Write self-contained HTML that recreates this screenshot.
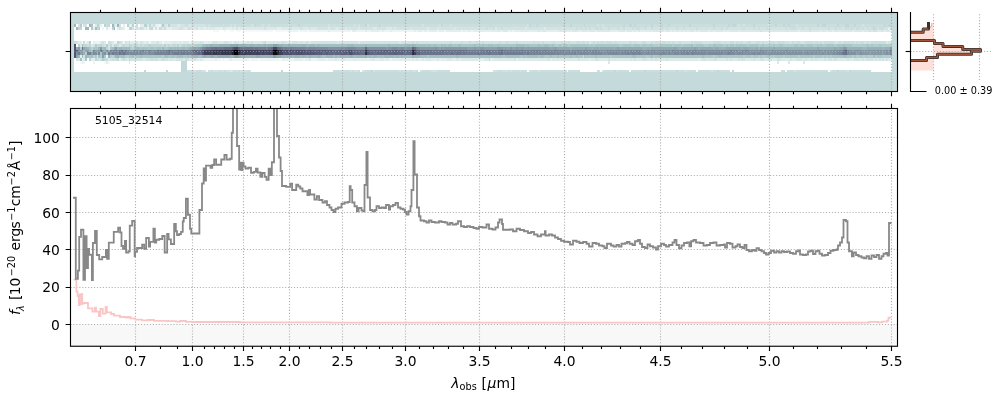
<!DOCTYPE html>
<html><head><meta charset="utf-8"><title>5105_32514</title>
<style>html,body{margin:0;padding:0;background:#fff}svg{display:block;will-change:transform}</style>
</head><body>
<svg width="1000" height="400" viewBox="0 0 1000 400">
<g shape-rendering="crispEdges">
<rect x="70.50" y="12.50" width="827.00" height="79.00" fill="#c5dada"/>
<path fill="#9cb8bc" d="M74.0 24.0h1.9v3.00h-1.9zM89.0 24.0h1.9v3.00h-1.9zM111.6 24.0h1.9v3.00h-1.9zM117.2 24.0h1.9v3.00h-1.9zM75.9 27.0h1.9v3.00h-1.9zM85.3 27.0h3.8v3.00h-3.8zM113.5 27.0h1.9v3.00h-1.9zM205.6 44.0h1.9v3.00h-1.9zM213.1 44.0h5.6v3.00h-5.6zM247.0 44.0h1.9v3.00h-1.9zM254.5 44.0h3.8v3.00h-3.8zM260.1 44.0h3.8v3.00h-3.8zM265.8 44.0h1.9v3.00h-1.9zM282.7 44.0h5.6v3.00h-5.6zM290.2 44.0h13.2v3.00h-13.2zM305.2 44.0h1.9v3.00h-1.9zM309.0 44.0h5.6v3.00h-5.6zM316.5 44.0h3.8v3.00h-3.8zM346.6 44.0h1.9v3.00h-1.9zM350.4 44.0h3.8v3.00h-3.8zM365.4 44.0h1.9v3.00h-1.9zM388.0 44.0h1.9v3.00h-1.9zM406.8 44.0h3.8v3.00h-3.8zM414.3 44.0h1.9v3.00h-1.9zM87.2 47.0h1.9v3.00h-1.9zM98.4 47.0h1.9v3.00h-1.9zM104.1 47.0h1.9v3.00h-1.9zM119.1 47.0h3.8v3.00h-3.8zM124.8 47.0h1.9v3.00h-1.9zM128.5 47.0h1.9v3.00h-1.9zM162.4 47.0h1.9v3.00h-1.9zM169.9 47.0h1.9v3.00h-1.9zM173.6 47.0h1.9v3.00h-1.9zM177.4 47.0h1.9v3.00h-1.9zM181.2 47.0h3.8v3.00h-3.8zM186.8 47.0h1.9v3.00h-1.9zM758.3 47.0h1.9v3.00h-1.9zM861.7 47.0h5.6v3.00h-5.6zM882.4 47.0h1.9v3.00h-1.9zM83.4 50.0h1.9v2.00h-1.9zM89.0 50.0h1.9v2.00h-1.9zM106.0 52.0h1.9v3.00h-1.9zM77.8 55.0h1.9v3.00h-1.9zM85.3 55.0h1.9v3.00h-1.9zM115.4 55.0h1.9v3.00h-1.9zM192.4 55.0h5.6v3.00h-5.6zM215.0 55.0h1.9v3.00h-1.9zM284.6 55.0h1.9v3.00h-1.9zM288.3 55.0h1.9v3.00h-1.9zM292.1 55.0h1.9v3.00h-1.9zM299.6 55.0h1.9v3.00h-1.9zM305.2 55.0h3.8v3.00h-3.8zM310.9 55.0h7.5v3.00h-7.5zM320.3 55.0h1.9v3.00h-1.9zM325.9 55.0h7.5v3.00h-7.5zM335.3 55.0h1.9v3.00h-1.9zM339.1 55.0h11.3v3.00h-11.3zM352.2 55.0h1.9v3.00h-1.9zM356.0 55.0h9.4v3.00h-9.4zM369.2 55.0h1.9v3.00h-1.9zM372.9 55.0h3.8v3.00h-3.8zM380.4 55.0h1.9v3.00h-1.9zM384.2 55.0h9.4v3.00h-9.4zM395.5 55.0h3.8v3.00h-3.8zM401.1 55.0h1.9v3.00h-1.9zM414.3 55.0h5.6v3.00h-5.6zM455.6 55.0h1.9v3.00h-1.9z"/>
<path fill="#ffffff" d="M75.9 24.0h1.9v3.00h-1.9zM81.5 24.0h1.9v3.00h-1.9zM87.2 24.0h1.9v3.00h-1.9zM102.2 24.0h1.9v3.00h-1.9zM109.7 24.0h1.9v3.00h-1.9zM121.0 24.0h1.9v3.00h-1.9zM124.8 24.0h1.9v3.00h-1.9zM134.2 24.0h1.9v3.00h-1.9zM137.9 24.0h1.9v3.00h-1.9zM74.0 27.0h1.9v3.00h-1.9zM81.5 27.0h3.8v3.00h-3.8zM89.0 27.0h1.9v3.00h-1.9zM100.3 27.0h1.9v3.00h-1.9zM104.1 27.0h1.9v3.00h-1.9zM115.4 27.0h1.9v3.00h-1.9zM124.8 27.0h1.9v3.00h-1.9zM74.0 30.0h13.2v2.00h-13.2zM89.0 30.0h5.6v2.00h-5.6zM96.6 30.0h116.6v2.00h-116.6zM218.8 30.0h5.6v2.00h-5.6zM226.3 30.0h3.8v2.00h-3.8zM233.8 30.0h1.9v2.00h-1.9zM241.3 30.0h1.9v2.00h-1.9zM273.3 30.0h1.9v2.00h-1.9zM74.0 32.0h817.8v3.00h-817.8zM74.0 35.0h817.8v3.00h-817.8zM74.0 38.0h817.8v3.00h-817.8zM90.9 41.0h1.9v3.00h-1.9zM106.0 41.0h1.9v3.00h-1.9zM75.9 44.0h1.9v3.00h-1.9zM74.0 58.0h1.9v3.00h-1.9zM87.2 58.0h1.9v3.00h-1.9zM74.0 61.0h5.6v3.00h-5.6zM85.3 61.0h7.5v3.00h-7.5zM94.7 61.0h9.4v3.00h-9.4zM109.7 61.0h18.8v3.00h-18.8zM130.4 61.0h50.8v3.00h-50.8zM186.8 61.0h421.1v3.00h-421.1zM609.8 61.0h167.3v3.00h-167.3zM779.0 61.0h9.4v3.00h-9.4zM790.3 61.0h13.2v3.00h-13.2zM805.3 61.0h86.5v3.00h-86.5zM74.0 64.0h107.2v3.00h-107.2zM186.8 64.0h705.0v3.00h-705.0zM74.0 67.0h107.2v3.00h-107.2zM186.8 67.0h705.0v3.00h-705.0zM74.0 70.0h69.6v2.00h-69.6zM145.4 70.0h20.7v2.00h-20.7zM168.0 70.0h13.2v2.00h-13.2zM205.6 70.0h1.9v2.00h-1.9zM250.7 70.0h30.1v2.00h-30.1zM282.7 70.0h50.8v2.00h-50.8zM359.8 70.0h1.9v2.00h-1.9zM418.0 70.0h1.9v2.00h-1.9zM450.0 70.0h43.2v2.00h-43.2zM527.1 70.0h1.9v2.00h-1.9zM566.6 70.0h1.9v2.00h-1.9zM579.7 70.0h16.9v2.00h-16.9zM600.4 70.0h1.9v2.00h-1.9zM628.6 70.0h1.9v2.00h-1.9zM696.3 70.0h1.9v2.00h-1.9zM730.1 70.0h1.9v2.00h-1.9zM733.9 70.0h47.0v2.00h-47.0zM784.6 70.0h1.9v2.00h-1.9zM827.9 70.0h1.9v2.00h-1.9zM871.1 70.0h20.7v2.00h-20.7z"/>
<path fill="#d3e3e3" d="M77.8 24.0h1.9v3.00h-1.9zM83.4 24.0h3.8v3.00h-3.8zM113.5 24.0h1.9v3.00h-1.9zM119.1 24.0h1.9v3.00h-1.9zM160.5 24.0h1.9v3.00h-1.9zM164.2 24.0h1.9v3.00h-1.9zM169.9 24.0h7.5v3.00h-7.5zM181.2 24.0h3.8v3.00h-3.8zM186.8 24.0h1.9v3.00h-1.9zM190.6 24.0h1.9v3.00h-1.9zM194.3 24.0h11.3v3.00h-11.3zM207.5 24.0h3.8v3.00h-3.8zM222.5 24.0h1.9v3.00h-1.9zM230.0 24.0h1.9v3.00h-1.9zM233.8 24.0h1.9v3.00h-1.9zM250.7 24.0h1.9v3.00h-1.9zM262.0 24.0h1.9v3.00h-1.9zM267.6 24.0h1.9v3.00h-1.9zM288.3 24.0h1.9v3.00h-1.9zM327.8 24.0h1.9v3.00h-1.9zM333.4 24.0h1.9v3.00h-1.9zM354.1 24.0h1.9v3.00h-1.9zM357.9 24.0h1.9v3.00h-1.9zM367.3 24.0h1.9v3.00h-1.9zM380.4 24.0h1.9v3.00h-1.9zM421.8 24.0h1.9v3.00h-1.9zM438.7 24.0h1.9v3.00h-1.9zM442.5 24.0h1.9v3.00h-1.9zM450.0 24.0h1.9v3.00h-1.9zM527.1 24.0h1.9v3.00h-1.9zM596.6 24.0h1.9v3.00h-1.9zM602.3 24.0h1.9v3.00h-1.9zM737.6 24.0h1.9v3.00h-1.9zM743.3 24.0h1.9v3.00h-1.9zM767.7 24.0h1.9v3.00h-1.9zM795.9 24.0h1.9v3.00h-1.9zM861.7 24.0h1.9v3.00h-1.9zM119.1 27.0h1.9v3.00h-1.9zM132.3 27.0h1.9v3.00h-1.9zM136.0 27.0h1.9v3.00h-1.9zM141.7 27.0h1.9v3.00h-1.9zM145.4 27.0h1.9v3.00h-1.9zM154.8 27.0h1.9v3.00h-1.9zM179.3 27.0h3.8v3.00h-3.8zM186.8 27.0h3.8v3.00h-3.8zM196.2 27.0h1.9v3.00h-1.9zM222.5 27.0h1.9v3.00h-1.9zM235.7 27.0h1.9v3.00h-1.9zM263.9 27.0h1.9v3.00h-1.9zM290.2 27.0h1.9v3.00h-1.9zM299.6 27.0h3.8v3.00h-3.8zM309.0 27.0h1.9v3.00h-1.9zM316.5 27.0h11.3v3.00h-11.3zM329.7 27.0h5.6v3.00h-5.6zM339.1 27.0h5.6v3.00h-5.6zM346.6 27.0h1.9v3.00h-1.9zM350.4 27.0h7.5v3.00h-7.5zM359.8 27.0h13.2v3.00h-13.2zM376.7 27.0h9.4v3.00h-9.4zM391.7 27.0h1.9v3.00h-1.9zM395.5 27.0h15.0v3.00h-15.0zM412.4 27.0h15.0v3.00h-15.0zM429.3 27.0h7.5v3.00h-7.5zM438.7 27.0h15.0v3.00h-15.0zM455.6 27.0h30.1v3.00h-30.1zM487.6 27.0h5.6v3.00h-5.6zM497.0 27.0h3.8v3.00h-3.8zM502.6 27.0h22.6v3.00h-22.6zM527.1 27.0h16.9v3.00h-16.9zM545.9 27.0h30.1v3.00h-30.1zM577.8 27.0h1.9v3.00h-1.9zM581.6 27.0h3.8v3.00h-3.8zM587.2 27.0h1.9v3.00h-1.9zM591.0 27.0h3.8v3.00h-3.8zM598.5 27.0h1.9v3.00h-1.9zM602.3 27.0h5.6v3.00h-5.6zM609.8 27.0h7.5v3.00h-7.5zM619.2 27.0h3.8v3.00h-3.8zM624.8 27.0h7.5v3.00h-7.5zM634.2 27.0h1.9v3.00h-1.9zM639.9 27.0h3.8v3.00h-3.8zM645.5 27.0h5.6v3.00h-5.6zM653.0 27.0h7.5v3.00h-7.5zM662.4 27.0h3.8v3.00h-3.8zM668.1 27.0h7.5v3.00h-7.5zM677.5 27.0h5.6v3.00h-5.6zM685.0 27.0h11.3v3.00h-11.3zM698.2 27.0h15.0v3.00h-15.0zM715.1 27.0h5.6v3.00h-5.6zM722.6 27.0h3.8v3.00h-3.8zM728.2 27.0h15.0v3.00h-15.0zM745.2 27.0h7.5v3.00h-7.5zM754.6 27.0h3.8v3.00h-3.8zM760.2 27.0h5.6v3.00h-5.6zM767.7 27.0h16.9v3.00h-16.9zM786.5 27.0h3.8v3.00h-3.8zM795.9 27.0h5.6v3.00h-5.6zM803.4 27.0h5.6v3.00h-5.6zM811.0 27.0h16.9v3.00h-16.9zM829.8 27.0h3.8v3.00h-3.8zM837.3 27.0h1.9v3.00h-1.9zM841.0 27.0h3.8v3.00h-3.8zM848.6 27.0h1.9v3.00h-1.9zM854.2 27.0h1.9v3.00h-1.9zM859.8 27.0h1.9v3.00h-1.9zM863.6 27.0h3.8v3.00h-3.8zM869.2 27.0h1.9v3.00h-1.9zM876.8 27.0h1.9v3.00h-1.9zM884.3 27.0h3.8v3.00h-3.8zM760.2 30.0h1.9v2.00h-1.9zM786.5 30.0h1.9v2.00h-1.9zM809.1 30.0h1.9v2.00h-1.9zM869.2 30.0h1.9v2.00h-1.9zM873.0 30.0h3.8v2.00h-3.8zM880.5 30.0h1.9v2.00h-1.9zM75.9 41.0h1.9v3.00h-1.9zM102.2 41.0h1.9v3.00h-1.9zM109.7 41.0h1.9v3.00h-1.9zM124.8 41.0h1.9v3.00h-1.9zM136.0 41.0h1.9v3.00h-1.9zM139.8 41.0h1.9v3.00h-1.9zM156.7 41.0h1.9v3.00h-1.9zM192.4 41.0h1.9v3.00h-1.9zM200.0 41.0h1.9v3.00h-1.9zM213.1 41.0h3.8v3.00h-3.8zM224.4 41.0h3.8v3.00h-3.8zM233.8 41.0h1.9v3.00h-1.9zM237.6 41.0h1.9v3.00h-1.9zM247.0 41.0h1.9v3.00h-1.9zM250.7 41.0h1.9v3.00h-1.9zM262.0 41.0h1.9v3.00h-1.9zM269.5 41.0h1.9v3.00h-1.9zM273.3 41.0h1.9v3.00h-1.9zM277.0 41.0h1.9v3.00h-1.9zM280.8 41.0h5.6v3.00h-5.6zM292.1 41.0h5.6v3.00h-5.6zM299.6 41.0h3.8v3.00h-3.8zM305.2 41.0h3.8v3.00h-3.8zM310.9 41.0h26.3v3.00h-26.3zM339.1 41.0h18.8v3.00h-18.8zM359.8 41.0h39.5v3.00h-39.5zM401.1 41.0h11.3v3.00h-11.3zM414.3 41.0h1.9v3.00h-1.9zM418.0 41.0h32.0v3.00h-32.0zM451.9 41.0h9.4v3.00h-9.4zM463.2 41.0h5.6v3.00h-5.6zM470.7 41.0h5.6v3.00h-5.6zM478.2 41.0h3.8v3.00h-3.8zM483.8 41.0h15.0v3.00h-15.0zM500.8 41.0h5.6v3.00h-5.6zM508.3 41.0h7.5v3.00h-7.5zM517.7 41.0h15.0v3.00h-15.0zM534.6 41.0h1.9v3.00h-1.9zM538.4 41.0h3.8v3.00h-3.8zM544.0 41.0h9.4v3.00h-9.4zM555.3 41.0h5.6v3.00h-5.6zM562.8 41.0h1.9v3.00h-1.9zM566.6 41.0h1.9v3.00h-1.9zM570.3 41.0h5.6v3.00h-5.6zM579.7 41.0h1.9v3.00h-1.9zM585.4 41.0h1.9v3.00h-1.9zM591.0 41.0h1.9v3.00h-1.9zM594.8 41.0h1.9v3.00h-1.9zM598.5 41.0h1.9v3.00h-1.9zM604.2 41.0h1.9v3.00h-1.9zM611.7 41.0h1.9v3.00h-1.9zM617.3 41.0h11.3v3.00h-11.3zM632.4 41.0h1.9v3.00h-1.9zM636.1 41.0h5.6v3.00h-5.6zM645.5 41.0h5.6v3.00h-5.6zM653.0 41.0h1.9v3.00h-1.9zM658.7 41.0h3.8v3.00h-3.8zM666.2 41.0h1.9v3.00h-1.9zM670.0 41.0h1.9v3.00h-1.9zM673.7 41.0h5.6v3.00h-5.6zM681.2 41.0h9.4v3.00h-9.4zM692.5 41.0h1.9v3.00h-1.9zM701.9 41.0h11.3v3.00h-11.3zM720.7 41.0h3.8v3.00h-3.8zM726.4 41.0h3.8v3.00h-3.8zM733.9 41.0h1.9v3.00h-1.9zM737.6 41.0h1.9v3.00h-1.9zM743.3 41.0h3.8v3.00h-3.8zM750.8 41.0h5.6v3.00h-5.6zM760.2 41.0h1.9v3.00h-1.9zM764.0 41.0h5.6v3.00h-5.6zM775.2 41.0h1.9v3.00h-1.9zM784.6 41.0h1.9v3.00h-1.9zM788.4 41.0h3.8v3.00h-3.8zM794.0 41.0h1.9v3.00h-1.9zM799.7 41.0h5.6v3.00h-5.6zM812.8 41.0h1.9v3.00h-1.9zM818.5 41.0h1.9v3.00h-1.9zM822.2 41.0h1.9v3.00h-1.9zM833.5 41.0h5.6v3.00h-5.6zM841.0 41.0h1.9v3.00h-1.9zM854.2 41.0h1.9v3.00h-1.9zM858.0 41.0h1.9v3.00h-1.9zM863.6 41.0h3.8v3.00h-3.8zM869.2 41.0h1.9v3.00h-1.9zM888.0 41.0h3.8v3.00h-3.8zM92.8 44.0h1.9v3.00h-1.9zM104.1 44.0h1.9v3.00h-1.9zM107.8 44.0h1.9v3.00h-1.9zM107.8 47.0h1.9v3.00h-1.9zM83.4 55.0h1.9v3.00h-1.9zM75.9 58.0h1.9v3.00h-1.9zM109.7 58.0h1.9v3.00h-1.9zM113.5 58.0h1.9v3.00h-1.9zM121.0 58.0h1.9v3.00h-1.9zM124.8 58.0h1.9v3.00h-1.9zM130.4 58.0h11.3v3.00h-11.3zM145.4 58.0h5.6v3.00h-5.6zM153.0 58.0h1.9v3.00h-1.9zM156.7 58.0h1.9v3.00h-1.9zM160.5 58.0h1.9v3.00h-1.9zM164.2 58.0h3.8v3.00h-3.8zM169.9 58.0h1.9v3.00h-1.9zM175.5 58.0h7.5v3.00h-7.5zM186.8 58.0h1.9v3.00h-1.9zM194.3 58.0h1.9v3.00h-1.9zM513.9 58.0h1.9v3.00h-1.9zM547.8 58.0h1.9v3.00h-1.9zM577.8 58.0h1.9v3.00h-1.9zM594.8 58.0h3.8v3.00h-3.8zM607.9 58.0h1.9v3.00h-1.9zM630.5 58.0h1.9v3.00h-1.9zM634.2 58.0h1.9v3.00h-1.9zM641.8 58.0h5.6v3.00h-5.6zM651.2 58.0h1.9v3.00h-1.9zM654.9 58.0h1.9v3.00h-1.9zM660.6 58.0h1.9v3.00h-1.9zM666.2 58.0h1.9v3.00h-1.9zM701.9 58.0h3.8v3.00h-3.8zM709.4 58.0h1.9v3.00h-1.9zM713.2 58.0h3.8v3.00h-3.8zM726.4 58.0h1.9v3.00h-1.9zM730.1 58.0h1.9v3.00h-1.9zM737.6 58.0h1.9v3.00h-1.9zM741.4 58.0h3.8v3.00h-3.8zM752.7 58.0h1.9v3.00h-1.9zM760.2 58.0h3.8v3.00h-3.8zM767.7 58.0h3.8v3.00h-3.8zM777.1 58.0h3.8v3.00h-3.8zM790.3 58.0h1.9v3.00h-1.9zM795.9 58.0h5.6v3.00h-5.6zM805.3 58.0h1.9v3.00h-1.9zM811.0 58.0h1.9v3.00h-1.9zM814.7 58.0h1.9v3.00h-1.9zM824.1 58.0h1.9v3.00h-1.9zM827.9 58.0h3.8v3.00h-3.8zM833.5 58.0h3.8v3.00h-3.8zM846.7 58.0h1.9v3.00h-1.9zM854.2 58.0h5.6v3.00h-5.6zM861.7 58.0h1.9v3.00h-1.9zM865.5 58.0h7.5v3.00h-7.5zM874.9 58.0h1.9v3.00h-1.9zM878.6 58.0h1.9v3.00h-1.9zM882.4 58.0h1.9v3.00h-1.9zM886.2 58.0h1.9v3.00h-1.9zM194.3 70.0h1.9v2.00h-1.9zM201.8 70.0h3.8v2.00h-3.8zM209.4 70.0h1.9v2.00h-1.9zM213.1 70.0h5.6v2.00h-5.6zM220.6 70.0h3.8v2.00h-3.8zM226.3 70.0h3.8v2.00h-3.8zM231.9 70.0h1.9v2.00h-1.9zM235.7 70.0h1.9v2.00h-1.9zM239.4 70.0h7.5v2.00h-7.5zM248.8 70.0h1.9v2.00h-1.9zM341.0 70.0h1.9v2.00h-1.9zM350.4 70.0h1.9v2.00h-1.9zM354.1 70.0h3.8v2.00h-3.8zM361.6 70.0h3.8v2.00h-3.8zM372.9 70.0h1.9v2.00h-1.9zM399.2 70.0h1.9v2.00h-1.9zM403.0 70.0h1.9v2.00h-1.9zM406.8 70.0h1.9v2.00h-1.9zM412.4 70.0h3.8v2.00h-3.8zM419.9 70.0h1.9v2.00h-1.9zM431.2 70.0h5.6v2.00h-5.6zM493.2 70.0h3.8v2.00h-3.8zM502.6 70.0h1.9v2.00h-1.9zM506.4 70.0h1.9v2.00h-1.9zM510.2 70.0h1.9v2.00h-1.9zM519.6 70.0h1.9v2.00h-1.9zM529.0 70.0h1.9v2.00h-1.9zM538.4 70.0h1.9v2.00h-1.9zM562.8 70.0h1.9v2.00h-1.9zM598.5 70.0h1.9v2.00h-1.9zM602.3 70.0h1.9v2.00h-1.9zM615.4 70.0h1.9v2.00h-1.9zM685.0 70.0h1.9v2.00h-1.9zM711.3 70.0h1.9v2.00h-1.9zM794.0 70.0h1.9v2.00h-1.9zM829.8 70.0h1.9v2.00h-1.9zM846.7 70.0h1.9v2.00h-1.9z"/>
<path fill="#b1cdcd" d="M79.6 24.0h1.9v3.00h-1.9zM162.4 24.0h1.9v3.00h-1.9zM90.9 27.0h1.9v3.00h-1.9zM98.4 27.0h1.9v3.00h-1.9zM94.7 44.0h1.9v3.00h-1.9zM106.0 44.0h1.9v3.00h-1.9zM196.2 44.0h5.6v3.00h-5.6zM555.3 44.0h3.8v3.00h-3.8zM560.9 44.0h1.9v3.00h-1.9zM568.4 44.0h1.9v3.00h-1.9zM589.1 44.0h1.9v3.00h-1.9zM592.9 44.0h1.9v3.00h-1.9zM619.2 44.0h3.8v3.00h-3.8zM630.5 44.0h3.8v3.00h-3.8zM639.9 44.0h1.9v3.00h-1.9zM647.4 44.0h1.9v3.00h-1.9zM653.0 44.0h7.5v3.00h-7.5zM671.8 44.0h1.9v3.00h-1.9zM681.2 44.0h1.9v3.00h-1.9zM692.5 44.0h3.8v3.00h-3.8zM703.8 44.0h5.6v3.00h-5.6zM711.3 44.0h1.9v3.00h-1.9zM722.6 44.0h3.8v3.00h-3.8zM728.2 44.0h1.9v3.00h-1.9zM733.9 44.0h1.9v3.00h-1.9zM747.0 44.0h1.9v3.00h-1.9zM758.3 44.0h3.8v3.00h-3.8zM764.0 44.0h9.4v3.00h-9.4zM775.2 44.0h3.8v3.00h-3.8zM782.8 44.0h11.3v3.00h-11.3zM797.8 44.0h1.9v3.00h-1.9zM803.4 44.0h3.8v3.00h-3.8zM812.8 44.0h3.8v3.00h-3.8zM818.5 44.0h1.9v3.00h-1.9zM822.2 44.0h3.8v3.00h-3.8zM833.5 44.0h3.8v3.00h-3.8zM852.3 44.0h13.2v3.00h-13.2zM869.2 44.0h1.9v3.00h-1.9zM873.0 44.0h5.6v3.00h-5.6zM880.5 44.0h11.3v3.00h-11.3zM79.6 47.0h1.9v3.00h-1.9zM130.4 47.0h1.9v3.00h-1.9zM160.5 47.0h1.9v3.00h-1.9zM85.3 52.0h1.9v3.00h-1.9zM100.3 55.0h1.9v3.00h-1.9zM109.7 55.0h1.9v3.00h-1.9zM124.8 55.0h3.8v3.00h-3.8zM162.4 55.0h1.9v3.00h-1.9zM609.8 55.0h1.9v3.00h-1.9zM645.5 55.0h3.8v3.00h-3.8zM653.0 55.0h1.9v3.00h-1.9zM713.2 55.0h1.9v3.00h-1.9zM743.3 55.0h1.9v3.00h-1.9zM750.8 55.0h1.9v3.00h-1.9zM758.3 55.0h1.9v3.00h-1.9zM762.1 55.0h3.8v3.00h-3.8zM769.6 55.0h1.9v3.00h-1.9zM773.4 55.0h1.9v3.00h-1.9zM782.8 55.0h1.9v3.00h-1.9zM797.8 55.0h1.9v3.00h-1.9zM812.8 55.0h1.9v3.00h-1.9zM822.2 55.0h1.9v3.00h-1.9zM826.0 55.0h1.9v3.00h-1.9zM829.8 55.0h1.9v3.00h-1.9zM852.3 55.0h1.9v3.00h-1.9zM856.1 55.0h3.8v3.00h-3.8zM861.7 55.0h3.8v3.00h-3.8zM867.4 55.0h5.6v3.00h-5.6zM874.9 55.0h1.9v3.00h-1.9zM882.4 55.0h9.4v3.00h-9.4zM102.2 58.0h1.9v3.00h-1.9z"/>
<path fill="#a8c7c7" d="M90.9 24.0h1.9v3.00h-1.9zM425.6 44.0h1.9v3.00h-1.9zM431.2 44.0h1.9v3.00h-1.9zM436.8 44.0h3.8v3.00h-3.8zM442.5 44.0h1.9v3.00h-1.9zM446.2 44.0h1.9v3.00h-1.9zM451.9 44.0h5.6v3.00h-5.6zM461.3 44.0h11.3v3.00h-11.3zM476.3 44.0h5.6v3.00h-5.6zM483.8 44.0h3.8v3.00h-3.8zM489.5 44.0h1.9v3.00h-1.9zM493.2 44.0h3.8v3.00h-3.8zM498.9 44.0h16.9v3.00h-16.9zM525.2 44.0h1.9v3.00h-1.9zM529.0 44.0h9.4v3.00h-9.4zM540.2 44.0h3.8v3.00h-3.8zM547.8 44.0h3.8v3.00h-3.8zM553.4 44.0h1.9v3.00h-1.9zM559.0 44.0h1.9v3.00h-1.9zM562.8 44.0h5.6v3.00h-5.6zM570.3 44.0h18.8v3.00h-18.8zM591.0 44.0h1.9v3.00h-1.9zM594.8 44.0h24.4v3.00h-24.4zM623.0 44.0h7.5v3.00h-7.5zM634.2 44.0h5.6v3.00h-5.6zM641.8 44.0h5.6v3.00h-5.6zM649.3 44.0h3.8v3.00h-3.8zM660.6 44.0h11.3v3.00h-11.3zM673.7 44.0h7.5v3.00h-7.5zM683.1 44.0h7.5v3.00h-7.5zM696.3 44.0h7.5v3.00h-7.5zM709.4 44.0h1.9v3.00h-1.9zM715.1 44.0h7.5v3.00h-7.5zM726.4 44.0h1.9v3.00h-1.9zM730.1 44.0h3.8v3.00h-3.8zM735.8 44.0h11.3v3.00h-11.3zM748.9 44.0h9.4v3.00h-9.4zM762.1 44.0h1.9v3.00h-1.9zM773.4 44.0h1.9v3.00h-1.9zM779.0 44.0h3.8v3.00h-3.8zM794.0 44.0h3.8v3.00h-3.8zM799.7 44.0h3.8v3.00h-3.8zM807.2 44.0h5.6v3.00h-5.6zM816.6 44.0h1.9v3.00h-1.9zM820.4 44.0h1.9v3.00h-1.9zM826.0 44.0h7.5v3.00h-7.5zM837.3 44.0h5.6v3.00h-5.6zM844.8 44.0h7.5v3.00h-7.5zM865.5 44.0h3.8v3.00h-3.8zM871.1 44.0h1.9v3.00h-1.9zM878.6 44.0h1.9v3.00h-1.9zM89.0 47.0h1.9v3.00h-1.9zM92.8 47.0h5.6v3.00h-5.6zM109.7 47.0h1.9v3.00h-1.9zM134.2 47.0h1.9v3.00h-1.9zM139.8 47.0h1.9v3.00h-1.9zM143.6 47.0h1.9v3.00h-1.9zM147.3 47.0h3.8v3.00h-3.8zM153.0 47.0h3.8v3.00h-3.8zM164.2 47.0h3.8v3.00h-3.8zM100.3 52.0h1.9v3.00h-1.9zM89.0 55.0h1.9v3.00h-1.9zM94.7 55.0h1.9v3.00h-1.9zM104.1 55.0h1.9v3.00h-1.9zM113.5 55.0h1.9v3.00h-1.9zM119.1 55.0h1.9v3.00h-1.9zM128.5 55.0h3.8v3.00h-3.8zM136.0 55.0h3.8v3.00h-3.8zM141.7 55.0h20.7v3.00h-20.7zM168.0 55.0h3.8v3.00h-3.8zM173.6 55.0h3.8v3.00h-3.8zM183.0 55.0h3.8v3.00h-3.8zM188.7 55.0h1.9v3.00h-1.9zM427.4 55.0h1.9v3.00h-1.9zM502.6 55.0h1.9v3.00h-1.9zM519.6 55.0h3.8v3.00h-3.8zM525.2 55.0h1.9v3.00h-1.9zM538.4 55.0h1.9v3.00h-1.9zM544.0 55.0h5.6v3.00h-5.6zM551.5 55.0h5.6v3.00h-5.6zM559.0 55.0h11.3v3.00h-11.3zM572.2 55.0h3.8v3.00h-3.8zM577.8 55.0h5.6v3.00h-5.6zM585.4 55.0h9.4v3.00h-9.4zM596.6 55.0h13.2v3.00h-13.2zM611.7 55.0h20.7v3.00h-20.7zM636.1 55.0h9.4v3.00h-9.4zM649.3 55.0h1.9v3.00h-1.9zM654.9 55.0h47.0v3.00h-47.0zM703.8 55.0h9.4v3.00h-9.4zM715.1 55.0h3.8v3.00h-3.8zM720.7 55.0h22.6v3.00h-22.6zM745.2 55.0h5.6v3.00h-5.6zM752.7 55.0h5.6v3.00h-5.6zM760.2 55.0h1.9v3.00h-1.9zM765.8 55.0h3.8v3.00h-3.8zM771.5 55.0h1.9v3.00h-1.9zM775.2 55.0h7.5v3.00h-7.5zM784.6 55.0h13.2v3.00h-13.2zM799.7 55.0h13.2v3.00h-13.2zM814.7 55.0h7.5v3.00h-7.5zM824.1 55.0h1.9v3.00h-1.9zM827.9 55.0h1.9v3.00h-1.9zM831.6 55.0h11.3v3.00h-11.3zM846.7 55.0h5.6v3.00h-5.6zM854.2 55.0h1.9v3.00h-1.9zM859.8 55.0h1.9v3.00h-1.9zM865.5 55.0h1.9v3.00h-1.9zM876.8 55.0h5.6v3.00h-5.6zM85.3 58.0h1.9v3.00h-1.9z"/>
<path fill="#f6f9f9" d="M92.8 24.0h1.9v3.00h-1.9zM107.8 27.0h3.8v3.00h-3.8zM126.6 27.0h1.9v3.00h-1.9zM87.2 30.0h1.9v2.00h-1.9zM94.7 30.0h1.9v2.00h-1.9zM213.1 30.0h5.6v2.00h-5.6zM224.4 30.0h1.9v2.00h-1.9zM230.0 30.0h3.8v2.00h-3.8zM235.7 30.0h5.6v2.00h-5.6zM243.2 30.0h30.1v2.00h-30.1zM275.2 30.0h13.2v2.00h-13.2zM297.7 30.0h1.9v2.00h-1.9zM301.5 30.0h1.9v2.00h-1.9zM307.1 30.0h1.9v2.00h-1.9zM350.4 30.0h1.9v2.00h-1.9zM81.5 41.0h1.9v3.00h-1.9zM220.6 58.0h1.9v3.00h-1.9zM224.4 58.0h3.8v3.00h-3.8zM248.8 58.0h1.9v3.00h-1.9zM258.2 58.0h1.9v3.00h-1.9zM278.9 58.0h1.9v3.00h-1.9zM79.6 61.0h1.9v3.00h-1.9zM104.1 61.0h1.9v3.00h-1.9zM107.8 61.0h1.9v3.00h-1.9z"/>
<path fill="#dce9e9" d="M94.7 24.0h1.9v3.00h-1.9zM98.4 24.0h1.9v3.00h-1.9zM147.3 24.0h1.9v3.00h-1.9zM151.1 24.0h1.9v3.00h-1.9zM166.1 24.0h1.9v3.00h-1.9zM177.4 24.0h3.8v3.00h-3.8zM188.7 24.0h1.9v3.00h-1.9zM106.0 27.0h1.9v3.00h-1.9zM121.0 27.0h1.9v3.00h-1.9zM137.9 27.0h1.9v3.00h-1.9zM162.4 27.0h1.9v3.00h-1.9zM171.8 27.0h7.5v3.00h-7.5zM183.0 27.0h1.9v3.00h-1.9zM190.6 27.0h5.6v3.00h-5.6zM200.0 27.0h3.8v3.00h-3.8zM205.6 27.0h1.9v3.00h-1.9zM209.4 27.0h5.6v3.00h-5.6zM224.4 27.0h1.9v3.00h-1.9zM231.9 27.0h1.9v3.00h-1.9zM239.4 27.0h24.4v3.00h-24.4zM265.8 27.0h11.3v3.00h-11.3zM280.8 27.0h9.4v3.00h-9.4zM292.1 27.0h7.5v3.00h-7.5zM303.4 27.0h5.6v3.00h-5.6zM310.9 27.0h5.6v3.00h-5.6zM327.8 27.0h1.9v3.00h-1.9zM335.3 27.0h3.8v3.00h-3.8zM344.7 27.0h1.9v3.00h-1.9zM348.5 27.0h1.9v3.00h-1.9zM357.9 27.0h1.9v3.00h-1.9zM372.9 27.0h3.8v3.00h-3.8zM386.1 27.0h5.6v3.00h-5.6zM393.6 27.0h1.9v3.00h-1.9zM410.5 27.0h1.9v3.00h-1.9zM427.4 27.0h1.9v3.00h-1.9zM436.8 27.0h1.9v3.00h-1.9zM453.8 27.0h1.9v3.00h-1.9zM495.1 27.0h1.9v3.00h-1.9zM525.2 27.0h1.9v3.00h-1.9zM544.0 27.0h1.9v3.00h-1.9zM497.0 30.0h1.9v2.00h-1.9zM502.6 30.0h5.6v2.00h-5.6zM521.4 30.0h1.9v2.00h-1.9zM525.2 30.0h1.9v2.00h-1.9zM536.5 30.0h3.8v2.00h-3.8zM542.1 30.0h3.8v2.00h-3.8zM559.0 30.0h7.5v2.00h-7.5zM568.4 30.0h1.9v2.00h-1.9zM572.2 30.0h5.6v2.00h-5.6zM581.6 30.0h5.6v2.00h-5.6zM589.1 30.0h5.6v2.00h-5.6zM596.6 30.0h13.2v2.00h-13.2zM619.2 30.0h5.6v2.00h-5.6zM626.7 30.0h5.6v2.00h-5.6zM634.2 30.0h1.9v2.00h-1.9zM638.0 30.0h1.9v2.00h-1.9zM645.5 30.0h1.9v2.00h-1.9zM649.3 30.0h1.9v2.00h-1.9zM653.0 30.0h11.3v2.00h-11.3zM666.2 30.0h3.8v2.00h-3.8zM671.8 30.0h1.9v2.00h-1.9zM675.6 30.0h3.8v2.00h-3.8zM681.2 30.0h1.9v2.00h-1.9zM685.0 30.0h1.9v2.00h-1.9zM688.8 30.0h5.6v2.00h-5.6zM696.3 30.0h1.9v2.00h-1.9zM700.0 30.0h7.5v2.00h-7.5zM709.4 30.0h3.8v2.00h-3.8zM715.1 30.0h7.5v2.00h-7.5zM724.5 30.0h1.9v2.00h-1.9zM730.1 30.0h7.5v2.00h-7.5zM739.5 30.0h20.7v2.00h-20.7zM762.1 30.0h24.4v2.00h-24.4zM788.4 30.0h9.4v2.00h-9.4zM799.7 30.0h9.4v2.00h-9.4zM811.0 30.0h9.4v2.00h-9.4zM822.2 30.0h3.8v2.00h-3.8zM827.9 30.0h3.8v2.00h-3.8zM833.5 30.0h5.6v2.00h-5.6zM841.0 30.0h11.3v2.00h-11.3zM854.2 30.0h7.5v2.00h-7.5zM863.6 30.0h5.6v2.00h-5.6zM871.1 30.0h1.9v2.00h-1.9zM876.8 30.0h1.9v2.00h-1.9zM882.4 30.0h1.9v2.00h-1.9zM886.2 30.0h3.8v2.00h-3.8zM79.6 41.0h1.9v3.00h-1.9zM87.2 41.0h1.9v3.00h-1.9zM100.3 41.0h1.9v3.00h-1.9zM104.1 41.0h1.9v3.00h-1.9zM111.6 41.0h1.9v3.00h-1.9zM121.0 41.0h1.9v3.00h-1.9zM126.6 41.0h1.9v3.00h-1.9zM132.3 41.0h3.8v3.00h-3.8zM141.7 41.0h1.9v3.00h-1.9zM145.4 41.0h3.8v3.00h-3.8zM151.1 41.0h5.6v3.00h-5.6zM160.5 41.0h1.9v3.00h-1.9zM171.8 41.0h5.6v3.00h-5.6zM179.3 41.0h1.9v3.00h-1.9zM183.0 41.0h5.6v3.00h-5.6zM190.6 41.0h1.9v3.00h-1.9zM194.3 41.0h5.6v3.00h-5.6zM201.8 41.0h1.9v3.00h-1.9zM207.5 41.0h1.9v3.00h-1.9zM211.2 41.0h1.9v3.00h-1.9zM216.9 41.0h7.5v3.00h-7.5zM228.2 41.0h3.8v3.00h-3.8zM235.7 41.0h1.9v3.00h-1.9zM241.3 41.0h5.6v3.00h-5.6zM248.8 41.0h1.9v3.00h-1.9zM252.6 41.0h9.4v3.00h-9.4zM265.8 41.0h3.8v3.00h-3.8zM271.4 41.0h1.9v3.00h-1.9zM275.2 41.0h1.9v3.00h-1.9zM278.9 41.0h1.9v3.00h-1.9zM286.4 41.0h5.6v3.00h-5.6zM297.7 41.0h1.9v3.00h-1.9zM303.4 41.0h1.9v3.00h-1.9zM309.0 41.0h1.9v3.00h-1.9zM337.2 41.0h1.9v3.00h-1.9zM357.9 41.0h1.9v3.00h-1.9zM399.2 41.0h1.9v3.00h-1.9zM589.1 41.0h1.9v3.00h-1.9zM886.2 41.0h1.9v3.00h-1.9zM79.6 44.0h1.9v3.00h-1.9zM90.9 44.0h1.9v3.00h-1.9zM111.6 44.0h1.9v3.00h-1.9zM119.1 44.0h1.9v3.00h-1.9zM96.6 55.0h1.9v3.00h-1.9zM77.8 58.0h1.9v3.00h-1.9zM83.4 58.0h1.9v3.00h-1.9zM98.4 58.0h1.9v3.00h-1.9zM107.8 58.0h1.9v3.00h-1.9zM126.6 58.0h1.9v3.00h-1.9zM141.7 58.0h3.8v3.00h-3.8zM158.6 58.0h1.9v3.00h-1.9zM168.0 58.0h1.9v3.00h-1.9zM171.8 58.0h3.8v3.00h-3.8zM183.0 58.0h1.9v3.00h-1.9zM188.7 58.0h5.6v3.00h-5.6zM196.2 58.0h1.9v3.00h-1.9zM200.0 58.0h1.9v3.00h-1.9zM309.0 58.0h1.9v3.00h-1.9zM335.3 58.0h1.9v3.00h-1.9zM342.8 58.0h1.9v3.00h-1.9zM354.1 58.0h1.9v3.00h-1.9zM371.0 58.0h3.8v3.00h-3.8zM380.4 58.0h3.8v3.00h-3.8zM386.1 58.0h1.9v3.00h-1.9zM412.4 58.0h1.9v3.00h-1.9zM416.2 58.0h1.9v3.00h-1.9zM421.8 58.0h1.9v3.00h-1.9zM425.6 58.0h5.6v3.00h-5.6zM436.8 58.0h1.9v3.00h-1.9zM442.5 58.0h1.9v3.00h-1.9zM446.2 58.0h5.6v3.00h-5.6zM455.6 58.0h3.8v3.00h-3.8zM461.3 58.0h16.9v3.00h-16.9zM483.8 58.0h5.6v3.00h-5.6zM493.2 58.0h20.7v3.00h-20.7zM517.7 58.0h30.1v3.00h-30.1zM551.5 58.0h26.3v3.00h-26.3zM579.7 58.0h9.4v3.00h-9.4zM591.0 58.0h3.8v3.00h-3.8zM598.5 58.0h9.4v3.00h-9.4zM609.8 58.0h20.7v3.00h-20.7zM632.4 58.0h1.9v3.00h-1.9zM636.1 58.0h5.6v3.00h-5.6zM647.4 58.0h3.8v3.00h-3.8zM653.0 58.0h1.9v3.00h-1.9zM656.8 58.0h3.8v3.00h-3.8zM662.4 58.0h3.8v3.00h-3.8zM668.1 58.0h30.1v3.00h-30.1zM700.0 58.0h1.9v3.00h-1.9zM705.7 58.0h3.8v3.00h-3.8zM711.3 58.0h1.9v3.00h-1.9zM717.0 58.0h9.4v3.00h-9.4zM728.2 58.0h1.9v3.00h-1.9zM732.0 58.0h5.6v3.00h-5.6zM739.5 58.0h1.9v3.00h-1.9zM745.2 58.0h7.5v3.00h-7.5zM754.6 58.0h5.6v3.00h-5.6zM764.0 58.0h3.8v3.00h-3.8zM771.5 58.0h5.6v3.00h-5.6zM780.9 58.0h9.4v3.00h-9.4zM792.2 58.0h3.8v3.00h-3.8zM801.6 58.0h3.8v3.00h-3.8zM807.2 58.0h3.8v3.00h-3.8zM812.8 58.0h1.9v3.00h-1.9zM816.6 58.0h7.5v3.00h-7.5zM826.0 58.0h1.9v3.00h-1.9zM831.6 58.0h1.9v3.00h-1.9zM837.3 58.0h9.4v3.00h-9.4zM848.6 58.0h5.6v3.00h-5.6zM859.8 58.0h1.9v3.00h-1.9zM863.6 58.0h1.9v3.00h-1.9zM873.0 58.0h1.9v3.00h-1.9zM876.8 58.0h1.9v3.00h-1.9zM880.5 58.0h1.9v3.00h-1.9zM884.3 58.0h1.9v3.00h-1.9zM888.0 58.0h1.9v3.00h-1.9zM128.5 61.0h1.9v3.00h-1.9zM607.9 61.0h1.9v3.00h-1.9zM777.1 61.0h1.9v3.00h-1.9zM788.4 61.0h1.9v3.00h-1.9zM803.4 61.0h1.9v3.00h-1.9zM230.0 70.0h1.9v2.00h-1.9z"/>
<path fill="#b9d2d2" d="M96.6 24.0h1.9v3.00h-1.9zM104.1 24.0h1.9v3.00h-1.9zM126.6 24.0h1.9v3.00h-1.9zM132.3 24.0h1.9v3.00h-1.9zM143.6 24.0h3.8v3.00h-3.8zM168.0 24.0h1.9v3.00h-1.9zM111.6 27.0h1.9v3.00h-1.9zM130.4 27.0h1.9v3.00h-1.9zM89.0 41.0h1.9v3.00h-1.9zM77.8 44.0h1.9v3.00h-1.9zM128.5 44.0h1.9v3.00h-1.9zM134.2 44.0h1.9v3.00h-1.9zM149.2 44.0h1.9v3.00h-1.9zM164.2 44.0h1.9v3.00h-1.9zM177.4 44.0h1.9v3.00h-1.9zM183.0 44.0h1.9v3.00h-1.9zM186.8 44.0h3.8v3.00h-3.8zM192.4 44.0h3.8v3.00h-3.8zM90.9 47.0h1.9v3.00h-1.9zM106.0 47.0h1.9v3.00h-1.9zM132.3 47.0h1.9v3.00h-1.9zM92.8 55.0h1.9v3.00h-1.9zM111.6 55.0h1.9v3.00h-1.9zM134.2 55.0h1.9v3.00h-1.9zM89.0 58.0h1.9v3.00h-1.9z"/>
<path fill="#e5eeee" d="M100.3 24.0h1.9v3.00h-1.9zM115.4 24.0h1.9v3.00h-1.9zM122.9 24.0h1.9v3.00h-1.9zM128.5 24.0h3.8v3.00h-3.8zM139.8 24.0h3.8v3.00h-3.8zM154.8 24.0h1.9v3.00h-1.9zM92.8 27.0h1.9v3.00h-1.9zM117.2 27.0h1.9v3.00h-1.9zM122.9 27.0h1.9v3.00h-1.9zM143.6 27.0h1.9v3.00h-1.9zM166.1 27.0h5.6v3.00h-5.6zM184.9 27.0h1.9v3.00h-1.9zM198.1 27.0h1.9v3.00h-1.9zM203.7 27.0h1.9v3.00h-1.9zM207.5 27.0h1.9v3.00h-1.9zM215.0 27.0h7.5v3.00h-7.5zM226.3 27.0h5.6v3.00h-5.6zM233.8 27.0h1.9v3.00h-1.9zM237.6 27.0h1.9v3.00h-1.9zM277.0 27.0h3.8v3.00h-3.8zM888.0 27.0h1.9v3.00h-1.9zM327.8 30.0h1.9v2.00h-1.9zM348.5 30.0h1.9v2.00h-1.9zM352.2 30.0h3.8v2.00h-3.8zM365.4 30.0h1.9v2.00h-1.9zM371.0 30.0h7.5v2.00h-7.5zM382.3 30.0h1.9v2.00h-1.9zM389.8 30.0h1.9v2.00h-1.9zM414.3 30.0h1.9v2.00h-1.9zM418.0 30.0h3.8v2.00h-3.8zM423.7 30.0h3.8v2.00h-3.8zM429.3 30.0h7.5v2.00h-7.5zM438.7 30.0h5.6v2.00h-5.6zM446.2 30.0h15.0v2.00h-15.0zM463.2 30.0h1.9v2.00h-1.9zM466.9 30.0h3.8v2.00h-3.8zM472.6 30.0h24.4v2.00h-24.4zM498.9 30.0h3.8v2.00h-3.8zM510.2 30.0h1.9v2.00h-1.9zM513.9 30.0h7.5v2.00h-7.5zM523.3 30.0h1.9v2.00h-1.9zM527.1 30.0h9.4v2.00h-9.4zM540.2 30.0h1.9v2.00h-1.9zM545.9 30.0h13.2v2.00h-13.2zM566.6 30.0h1.9v2.00h-1.9zM570.3 30.0h1.9v2.00h-1.9zM577.8 30.0h3.8v2.00h-3.8zM587.2 30.0h1.9v2.00h-1.9zM594.8 30.0h1.9v2.00h-1.9zM609.8 30.0h9.4v2.00h-9.4zM624.8 30.0h1.9v2.00h-1.9zM632.4 30.0h1.9v2.00h-1.9zM636.1 30.0h1.9v2.00h-1.9zM639.9 30.0h5.6v2.00h-5.6zM647.4 30.0h1.9v2.00h-1.9zM651.2 30.0h1.9v2.00h-1.9zM664.3 30.0h1.9v2.00h-1.9zM670.0 30.0h1.9v2.00h-1.9zM673.7 30.0h1.9v2.00h-1.9zM679.4 30.0h1.9v2.00h-1.9zM683.1 30.0h1.9v2.00h-1.9zM686.9 30.0h1.9v2.00h-1.9zM694.4 30.0h1.9v2.00h-1.9zM698.2 30.0h1.9v2.00h-1.9zM707.6 30.0h1.9v2.00h-1.9zM713.2 30.0h1.9v2.00h-1.9zM722.6 30.0h1.9v2.00h-1.9zM726.4 30.0h3.8v2.00h-3.8zM737.6 30.0h1.9v2.00h-1.9zM797.8 30.0h1.9v2.00h-1.9zM820.4 30.0h1.9v2.00h-1.9zM826.0 30.0h1.9v2.00h-1.9zM831.6 30.0h1.9v2.00h-1.9zM839.2 30.0h1.9v2.00h-1.9zM852.3 30.0h1.9v2.00h-1.9zM861.7 30.0h1.9v2.00h-1.9zM878.6 30.0h1.9v2.00h-1.9zM884.3 30.0h1.9v2.00h-1.9zM77.8 41.0h1.9v3.00h-1.9zM92.8 41.0h1.9v3.00h-1.9zM130.4 41.0h1.9v3.00h-1.9zM137.9 41.0h1.9v3.00h-1.9zM143.6 41.0h1.9v3.00h-1.9zM158.6 41.0h1.9v3.00h-1.9zM164.2 41.0h7.5v3.00h-7.5zM177.4 41.0h1.9v3.00h-1.9zM181.2 41.0h1.9v3.00h-1.9zM203.7 41.0h3.8v3.00h-3.8zM209.4 41.0h1.9v3.00h-1.9zM231.9 41.0h1.9v3.00h-1.9zM239.4 41.0h1.9v3.00h-1.9zM79.6 55.0h1.9v3.00h-1.9zM90.9 58.0h3.8v3.00h-3.8zM119.1 58.0h1.9v3.00h-1.9zM198.1 58.0h1.9v3.00h-1.9zM201.8 58.0h1.9v3.00h-1.9zM215.0 58.0h1.9v3.00h-1.9zM230.0 58.0h1.9v3.00h-1.9zM245.1 58.0h1.9v3.00h-1.9zM282.7 58.0h1.9v3.00h-1.9zM286.4 58.0h1.9v3.00h-1.9zM294.0 58.0h9.4v3.00h-9.4zM305.2 58.0h3.8v3.00h-3.8zM316.5 58.0h9.4v3.00h-9.4zM327.8 58.0h7.5v3.00h-7.5zM337.2 58.0h5.6v3.00h-5.6zM344.7 58.0h9.4v3.00h-9.4zM356.0 58.0h15.0v3.00h-15.0zM374.8 58.0h5.6v3.00h-5.6zM384.2 58.0h1.9v3.00h-1.9zM388.0 58.0h1.9v3.00h-1.9zM391.7 58.0h20.7v3.00h-20.7zM414.3 58.0h1.9v3.00h-1.9zM418.0 58.0h3.8v3.00h-3.8zM423.7 58.0h1.9v3.00h-1.9zM431.2 58.0h5.6v3.00h-5.6zM438.7 58.0h3.8v3.00h-3.8zM444.4 58.0h1.9v3.00h-1.9zM451.9 58.0h3.8v3.00h-3.8zM459.4 58.0h1.9v3.00h-1.9zM478.2 58.0h5.6v3.00h-5.6zM489.5 58.0h3.8v3.00h-3.8zM515.8 58.0h1.9v3.00h-1.9zM549.6 58.0h1.9v3.00h-1.9zM589.1 58.0h1.9v3.00h-1.9zM698.2 58.0h1.9v3.00h-1.9zM889.9 58.0h1.9v3.00h-1.9zM81.5 61.0h1.9v3.00h-1.9zM106.0 61.0h1.9v3.00h-1.9z"/>
<path fill="#cbdede" d="M106.0 24.0h1.9v3.00h-1.9zM136.0 24.0h1.9v3.00h-1.9zM153.0 24.0h1.9v3.00h-1.9zM184.9 24.0h1.9v3.00h-1.9zM192.4 24.0h1.9v3.00h-1.9zM205.6 24.0h1.9v3.00h-1.9zM211.2 24.0h11.3v3.00h-11.3zM224.4 24.0h5.6v3.00h-5.6zM231.9 24.0h1.9v3.00h-1.9zM235.7 24.0h15.0v3.00h-15.0zM252.6 24.0h1.9v3.00h-1.9zM256.4 24.0h5.6v3.00h-5.6zM263.9 24.0h3.8v3.00h-3.8zM269.5 24.0h18.8v3.00h-18.8zM290.2 24.0h7.5v3.00h-7.5zM299.6 24.0h28.2v3.00h-28.2zM329.7 24.0h3.8v3.00h-3.8zM335.3 24.0h18.8v3.00h-18.8zM356.0 24.0h1.9v3.00h-1.9zM359.8 24.0h5.6v3.00h-5.6zM369.2 24.0h9.4v3.00h-9.4zM382.3 24.0h39.5v3.00h-39.5zM423.7 24.0h15.0v3.00h-15.0zM444.4 24.0h5.6v3.00h-5.6zM451.9 24.0h37.6v3.00h-37.6zM491.4 24.0h35.7v3.00h-35.7zM530.8 24.0h5.6v3.00h-5.6zM538.4 24.0h24.4v3.00h-24.4zM564.7 24.0h5.6v3.00h-5.6zM572.2 24.0h11.3v3.00h-11.3zM585.4 24.0h11.3v3.00h-11.3zM598.5 24.0h3.8v3.00h-3.8zM604.2 24.0h18.8v3.00h-18.8zM624.8 24.0h3.8v3.00h-3.8zM632.4 24.0h1.9v3.00h-1.9zM636.1 24.0h9.4v3.00h-9.4zM647.4 24.0h3.8v3.00h-3.8zM653.0 24.0h7.5v3.00h-7.5zM662.4 24.0h5.6v3.00h-5.6zM670.0 24.0h18.8v3.00h-18.8zM690.6 24.0h22.6v3.00h-22.6zM715.1 24.0h13.2v3.00h-13.2zM730.1 24.0h1.9v3.00h-1.9zM735.8 24.0h1.9v3.00h-1.9zM739.5 24.0h3.8v3.00h-3.8zM745.2 24.0h7.5v3.00h-7.5zM754.6 24.0h13.2v3.00h-13.2zM769.6 24.0h5.6v3.00h-5.6zM777.1 24.0h5.6v3.00h-5.6zM784.6 24.0h3.8v3.00h-3.8zM790.3 24.0h5.6v3.00h-5.6zM797.8 24.0h18.8v3.00h-18.8zM818.5 24.0h3.8v3.00h-3.8zM826.0 24.0h11.3v3.00h-11.3zM839.2 24.0h5.6v3.00h-5.6zM848.6 24.0h5.6v3.00h-5.6zM856.1 24.0h5.6v3.00h-5.6zM863.6 24.0h20.7v3.00h-20.7zM886.2 24.0h1.9v3.00h-1.9zM139.8 27.0h1.9v3.00h-1.9zM149.2 27.0h1.9v3.00h-1.9zM158.6 27.0h3.8v3.00h-3.8zM164.2 27.0h1.9v3.00h-1.9zM485.7 27.0h1.9v3.00h-1.9zM493.2 27.0h1.9v3.00h-1.9zM500.8 27.0h1.9v3.00h-1.9zM576.0 27.0h1.9v3.00h-1.9zM579.7 27.0h1.9v3.00h-1.9zM585.4 27.0h1.9v3.00h-1.9zM589.1 27.0h1.9v3.00h-1.9zM594.8 27.0h3.8v3.00h-3.8zM600.4 27.0h1.9v3.00h-1.9zM607.9 27.0h1.9v3.00h-1.9zM617.3 27.0h1.9v3.00h-1.9zM623.0 27.0h1.9v3.00h-1.9zM632.4 27.0h1.9v3.00h-1.9zM636.1 27.0h3.8v3.00h-3.8zM643.6 27.0h1.9v3.00h-1.9zM651.2 27.0h1.9v3.00h-1.9zM660.6 27.0h1.9v3.00h-1.9zM666.2 27.0h1.9v3.00h-1.9zM675.6 27.0h1.9v3.00h-1.9zM683.1 27.0h1.9v3.00h-1.9zM696.3 27.0h1.9v3.00h-1.9zM713.2 27.0h1.9v3.00h-1.9zM720.7 27.0h1.9v3.00h-1.9zM726.4 27.0h1.9v3.00h-1.9zM743.3 27.0h1.9v3.00h-1.9zM752.7 27.0h1.9v3.00h-1.9zM758.3 27.0h1.9v3.00h-1.9zM765.8 27.0h1.9v3.00h-1.9zM784.6 27.0h1.9v3.00h-1.9zM790.3 27.0h5.6v3.00h-5.6zM801.6 27.0h1.9v3.00h-1.9zM809.1 27.0h1.9v3.00h-1.9zM827.9 27.0h1.9v3.00h-1.9zM833.5 27.0h3.8v3.00h-3.8zM839.2 27.0h1.9v3.00h-1.9zM844.8 27.0h3.8v3.00h-3.8zM850.4 27.0h3.8v3.00h-3.8zM856.1 27.0h3.8v3.00h-3.8zM861.7 27.0h1.9v3.00h-1.9zM867.4 27.0h1.9v3.00h-1.9zM871.1 27.0h1.9v3.00h-1.9zM874.9 27.0h1.9v3.00h-1.9zM878.6 27.0h5.6v3.00h-5.6zM889.9 27.0h1.9v3.00h-1.9zM74.0 41.0h1.9v3.00h-1.9zM83.4 41.0h1.9v3.00h-1.9zM107.8 41.0h1.9v3.00h-1.9zM119.1 41.0h1.9v3.00h-1.9zM128.5 41.0h1.9v3.00h-1.9zM263.9 41.0h1.9v3.00h-1.9zM412.4 41.0h1.9v3.00h-1.9zM416.2 41.0h1.9v3.00h-1.9zM450.0 41.0h1.9v3.00h-1.9zM461.3 41.0h1.9v3.00h-1.9zM468.8 41.0h1.9v3.00h-1.9zM476.3 41.0h1.9v3.00h-1.9zM482.0 41.0h1.9v3.00h-1.9zM498.9 41.0h1.9v3.00h-1.9zM506.4 41.0h1.9v3.00h-1.9zM515.8 41.0h1.9v3.00h-1.9zM532.7 41.0h1.9v3.00h-1.9zM536.5 41.0h1.9v3.00h-1.9zM542.1 41.0h1.9v3.00h-1.9zM553.4 41.0h1.9v3.00h-1.9zM560.9 41.0h1.9v3.00h-1.9zM564.7 41.0h1.9v3.00h-1.9zM568.4 41.0h1.9v3.00h-1.9zM576.0 41.0h3.8v3.00h-3.8zM581.6 41.0h3.8v3.00h-3.8zM587.2 41.0h1.9v3.00h-1.9zM592.9 41.0h1.9v3.00h-1.9zM596.6 41.0h1.9v3.00h-1.9zM600.4 41.0h3.8v3.00h-3.8zM606.0 41.0h5.6v3.00h-5.6zM613.6 41.0h3.8v3.00h-3.8zM628.6 41.0h3.8v3.00h-3.8zM634.2 41.0h1.9v3.00h-1.9zM641.8 41.0h3.8v3.00h-3.8zM651.2 41.0h1.9v3.00h-1.9zM654.9 41.0h3.8v3.00h-3.8zM662.4 41.0h3.8v3.00h-3.8zM668.1 41.0h1.9v3.00h-1.9zM671.8 41.0h1.9v3.00h-1.9zM679.4 41.0h1.9v3.00h-1.9zM690.6 41.0h1.9v3.00h-1.9zM694.4 41.0h7.5v3.00h-7.5zM713.2 41.0h7.5v3.00h-7.5zM724.5 41.0h1.9v3.00h-1.9zM730.1 41.0h3.8v3.00h-3.8zM735.8 41.0h1.9v3.00h-1.9zM739.5 41.0h3.8v3.00h-3.8zM747.0 41.0h3.8v3.00h-3.8zM756.4 41.0h3.8v3.00h-3.8zM762.1 41.0h1.9v3.00h-1.9zM769.6 41.0h5.6v3.00h-5.6zM777.1 41.0h7.5v3.00h-7.5zM786.5 41.0h1.9v3.00h-1.9zM792.2 41.0h1.9v3.00h-1.9zM795.9 41.0h3.8v3.00h-3.8zM805.3 41.0h7.5v3.00h-7.5zM814.7 41.0h3.8v3.00h-3.8zM820.4 41.0h1.9v3.00h-1.9zM824.1 41.0h9.4v3.00h-9.4zM839.2 41.0h1.9v3.00h-1.9zM842.9 41.0h11.3v3.00h-11.3zM856.1 41.0h1.9v3.00h-1.9zM859.8 41.0h3.8v3.00h-3.8zM867.4 41.0h1.9v3.00h-1.9zM871.1 41.0h15.0v3.00h-15.0zM87.2 44.0h1.9v3.00h-1.9zM96.6 44.0h1.9v3.00h-1.9zM102.2 44.0h1.9v3.00h-1.9zM117.2 44.0h1.9v3.00h-1.9zM121.0 44.0h1.9v3.00h-1.9zM124.8 44.0h3.8v3.00h-3.8zM132.3 44.0h1.9v3.00h-1.9zM137.9 44.0h1.9v3.00h-1.9zM141.7 44.0h1.9v3.00h-1.9zM145.4 44.0h1.9v3.00h-1.9zM162.4 44.0h1.9v3.00h-1.9zM166.1 44.0h1.9v3.00h-1.9zM169.9 44.0h1.9v3.00h-1.9zM175.5 44.0h1.9v3.00h-1.9zM179.3 44.0h1.9v3.00h-1.9zM96.6 58.0h1.9v3.00h-1.9zM100.3 58.0h1.9v3.00h-1.9zM106.0 58.0h1.9v3.00h-1.9zM111.6 58.0h1.9v3.00h-1.9zM115.4 58.0h1.9v3.00h-1.9zM122.9 58.0h1.9v3.00h-1.9zM151.1 58.0h1.9v3.00h-1.9zM154.8 58.0h1.9v3.00h-1.9zM162.4 58.0h1.9v3.00h-1.9zM184.9 58.0h1.9v3.00h-1.9zM186.8 70.0h7.5v2.00h-7.5zM196.2 70.0h5.6v2.00h-5.6zM207.5 70.0h1.9v2.00h-1.9zM211.2 70.0h1.9v2.00h-1.9zM218.8 70.0h1.9v2.00h-1.9zM224.4 70.0h1.9v2.00h-1.9zM233.8 70.0h1.9v2.00h-1.9zM237.6 70.0h1.9v2.00h-1.9zM247.0 70.0h1.9v2.00h-1.9zM333.4 70.0h7.5v2.00h-7.5zM342.8 70.0h7.5v2.00h-7.5zM352.2 70.0h1.9v2.00h-1.9zM357.9 70.0h1.9v2.00h-1.9zM365.4 70.0h5.6v2.00h-5.6zM374.8 70.0h24.4v2.00h-24.4zM401.1 70.0h1.9v2.00h-1.9zM404.9 70.0h1.9v2.00h-1.9zM408.6 70.0h3.8v2.00h-3.8zM416.2 70.0h1.9v2.00h-1.9zM421.8 70.0h9.4v2.00h-9.4zM436.8 70.0h13.2v2.00h-13.2zM497.0 70.0h5.6v2.00h-5.6zM504.5 70.0h1.9v2.00h-1.9zM508.3 70.0h1.9v2.00h-1.9zM512.0 70.0h7.5v2.00h-7.5zM521.4 70.0h5.6v2.00h-5.6zM530.8 70.0h7.5v2.00h-7.5zM540.2 70.0h22.6v2.00h-22.6zM564.7 70.0h1.9v2.00h-1.9zM568.4 70.0h11.3v2.00h-11.3zM596.6 70.0h1.9v2.00h-1.9zM604.2 70.0h9.4v2.00h-9.4zM617.3 70.0h11.3v2.00h-11.3zM630.5 70.0h13.2v2.00h-13.2zM645.5 70.0h30.1v2.00h-30.1zM677.5 70.0h7.5v2.00h-7.5zM686.9 70.0h9.4v2.00h-9.4zM698.2 70.0h13.2v2.00h-13.2zM713.2 70.0h3.8v2.00h-3.8zM718.8 70.0h11.3v2.00h-11.3zM780.9 70.0h3.8v2.00h-3.8zM786.5 70.0h7.5v2.00h-7.5zM795.9 70.0h32.0v2.00h-32.0zM831.6 70.0h5.6v2.00h-5.6zM839.2 70.0h7.5v2.00h-7.5zM850.4 70.0h20.7v2.00h-20.7z"/>
<path fill="#c2d8d8" d="M107.8 24.0h1.9v3.00h-1.9zM149.2 24.0h1.9v3.00h-1.9zM254.5 24.0h1.9v3.00h-1.9zM297.7 24.0h1.9v3.00h-1.9zM365.4 24.0h1.9v3.00h-1.9zM378.6 24.0h1.9v3.00h-1.9zM440.6 24.0h1.9v3.00h-1.9zM489.5 24.0h1.9v3.00h-1.9zM529.0 24.0h1.9v3.00h-1.9zM536.5 24.0h1.9v3.00h-1.9zM562.8 24.0h1.9v3.00h-1.9zM570.3 24.0h1.9v3.00h-1.9zM583.5 24.0h1.9v3.00h-1.9zM623.0 24.0h1.9v3.00h-1.9zM628.6 24.0h3.8v3.00h-3.8zM634.2 24.0h1.9v3.00h-1.9zM645.5 24.0h1.9v3.00h-1.9zM651.2 24.0h1.9v3.00h-1.9zM660.6 24.0h1.9v3.00h-1.9zM668.1 24.0h1.9v3.00h-1.9zM688.8 24.0h1.9v3.00h-1.9zM713.2 24.0h1.9v3.00h-1.9zM728.2 24.0h1.9v3.00h-1.9zM732.0 24.0h3.8v3.00h-3.8zM752.7 24.0h1.9v3.00h-1.9zM775.2 24.0h1.9v3.00h-1.9zM782.8 24.0h1.9v3.00h-1.9zM788.4 24.0h1.9v3.00h-1.9zM816.6 24.0h1.9v3.00h-1.9zM822.2 24.0h3.8v3.00h-3.8zM837.3 24.0h1.9v3.00h-1.9zM844.8 24.0h3.8v3.00h-3.8zM854.2 24.0h1.9v3.00h-1.9zM884.3 24.0h1.9v3.00h-1.9zM888.0 24.0h3.8v3.00h-3.8zM77.8 27.0h3.8v3.00h-3.8zM96.6 27.0h1.9v3.00h-1.9zM128.5 27.0h1.9v3.00h-1.9zM151.1 27.0h1.9v3.00h-1.9zM873.0 27.0h1.9v3.00h-1.9zM117.2 41.0h1.9v3.00h-1.9zM83.4 44.0h3.8v3.00h-3.8zM89.0 44.0h1.9v3.00h-1.9zM98.4 44.0h3.8v3.00h-3.8zM109.7 44.0h1.9v3.00h-1.9zM113.5 44.0h3.8v3.00h-3.8zM122.9 44.0h1.9v3.00h-1.9zM130.4 44.0h1.9v3.00h-1.9zM136.0 44.0h1.9v3.00h-1.9zM139.8 44.0h1.9v3.00h-1.9zM143.6 44.0h1.9v3.00h-1.9zM147.3 44.0h1.9v3.00h-1.9zM151.1 44.0h11.3v3.00h-11.3zM168.0 44.0h1.9v3.00h-1.9zM171.8 44.0h3.8v3.00h-3.8zM181.2 44.0h1.9v3.00h-1.9zM184.9 44.0h1.9v3.00h-1.9zM190.6 44.0h1.9v3.00h-1.9zM94.7 58.0h1.9v3.00h-1.9zM104.1 58.0h1.9v3.00h-1.9zM117.2 58.0h1.9v3.00h-1.9zM128.5 58.0h1.9v3.00h-1.9zM181.2 61.0h5.6v3.00h-5.6zM181.2 64.0h5.6v3.00h-5.6zM181.2 67.0h5.6v3.00h-5.6zM143.6 70.0h1.9v2.00h-1.9zM166.1 70.0h1.9v2.00h-1.9zM181.2 70.0h5.6v2.00h-5.6zM280.8 70.0h1.9v2.00h-1.9zM371.0 70.0h1.9v2.00h-1.9zM613.6 70.0h1.9v2.00h-1.9zM643.6 70.0h1.9v2.00h-1.9zM675.6 70.0h1.9v2.00h-1.9zM717.0 70.0h1.9v2.00h-1.9zM732.0 70.0h1.9v2.00h-1.9zM837.3 70.0h1.9v2.00h-1.9zM848.6 70.0h1.9v2.00h-1.9z"/>
<path fill="#eef4f4" d="M156.7 24.0h3.8v3.00h-3.8zM102.2 27.0h1.9v3.00h-1.9zM134.2 27.0h1.9v3.00h-1.9zM147.3 27.0h1.9v3.00h-1.9zM153.0 27.0h1.9v3.00h-1.9zM156.7 27.0h1.9v3.00h-1.9zM288.3 30.0h9.4v2.00h-9.4zM299.6 30.0h1.9v2.00h-1.9zM303.4 30.0h3.8v2.00h-3.8zM309.0 30.0h18.8v2.00h-18.8zM329.7 30.0h18.8v2.00h-18.8zM356.0 30.0h9.4v2.00h-9.4zM367.3 30.0h3.8v2.00h-3.8zM378.6 30.0h3.8v2.00h-3.8zM384.2 30.0h5.6v2.00h-5.6zM391.7 30.0h22.6v2.00h-22.6zM416.2 30.0h1.9v2.00h-1.9zM421.8 30.0h1.9v2.00h-1.9zM427.4 30.0h1.9v2.00h-1.9zM436.8 30.0h1.9v2.00h-1.9zM444.4 30.0h1.9v2.00h-1.9zM461.3 30.0h1.9v2.00h-1.9zM465.0 30.0h1.9v2.00h-1.9zM470.7 30.0h1.9v2.00h-1.9zM508.3 30.0h1.9v2.00h-1.9zM512.0 30.0h1.9v2.00h-1.9zM889.9 30.0h1.9v2.00h-1.9zM85.3 41.0h1.9v3.00h-1.9zM94.7 41.0h5.6v3.00h-5.6zM113.5 41.0h3.8v3.00h-3.8zM122.9 41.0h1.9v3.00h-1.9zM149.2 41.0h1.9v3.00h-1.9zM162.4 41.0h1.9v3.00h-1.9zM188.7 41.0h1.9v3.00h-1.9zM106.0 55.0h1.9v3.00h-1.9zM81.5 58.0h1.9v3.00h-1.9zM203.7 58.0h11.3v3.00h-11.3zM216.9 58.0h3.8v3.00h-3.8zM222.5 58.0h1.9v3.00h-1.9zM228.2 58.0h1.9v3.00h-1.9zM231.9 58.0h13.2v3.00h-13.2zM247.0 58.0h1.9v3.00h-1.9zM250.7 58.0h7.5v3.00h-7.5zM260.1 58.0h18.8v3.00h-18.8zM280.8 58.0h1.9v3.00h-1.9zM284.6 58.0h1.9v3.00h-1.9zM288.3 58.0h5.6v3.00h-5.6zM303.4 58.0h1.9v3.00h-1.9zM310.9 58.0h5.6v3.00h-5.6zM325.9 58.0h1.9v3.00h-1.9zM389.8 58.0h1.9v3.00h-1.9zM83.4 61.0h1.9v3.00h-1.9zM92.8 61.0h1.9v3.00h-1.9z"/>
<path fill="#a2c0c2" d="M94.7 27.0h1.9v3.00h-1.9zM81.5 44.0h1.9v3.00h-1.9zM201.8 44.0h3.8v3.00h-3.8zM207.5 44.0h1.9v3.00h-1.9zM307.1 44.0h1.9v3.00h-1.9zM314.6 44.0h1.9v3.00h-1.9zM320.3 44.0h26.3v3.00h-26.3zM348.5 44.0h1.9v3.00h-1.9zM354.1 44.0h11.3v3.00h-11.3zM367.3 44.0h20.7v3.00h-20.7zM389.8 44.0h16.9v3.00h-16.9zM410.5 44.0h1.9v3.00h-1.9zM416.2 44.0h9.4v3.00h-9.4zM427.4 44.0h3.8v3.00h-3.8zM433.1 44.0h3.8v3.00h-3.8zM440.6 44.0h1.9v3.00h-1.9zM444.4 44.0h1.9v3.00h-1.9zM448.1 44.0h3.8v3.00h-3.8zM457.5 44.0h3.8v3.00h-3.8zM472.6 44.0h3.8v3.00h-3.8zM482.0 44.0h1.9v3.00h-1.9zM487.6 44.0h1.9v3.00h-1.9zM491.4 44.0h1.9v3.00h-1.9zM497.0 44.0h1.9v3.00h-1.9zM515.8 44.0h9.4v3.00h-9.4zM527.1 44.0h1.9v3.00h-1.9zM538.4 44.0h1.9v3.00h-1.9zM544.0 44.0h3.8v3.00h-3.8zM551.5 44.0h1.9v3.00h-1.9zM690.6 44.0h1.9v3.00h-1.9zM713.2 44.0h1.9v3.00h-1.9zM842.9 44.0h1.9v3.00h-1.9zM102.2 47.0h1.9v3.00h-1.9zM111.6 47.0h1.9v3.00h-1.9zM117.2 47.0h1.9v3.00h-1.9zM122.9 47.0h1.9v3.00h-1.9zM126.6 47.0h1.9v3.00h-1.9zM136.0 47.0h3.8v3.00h-3.8zM141.7 47.0h1.9v3.00h-1.9zM145.4 47.0h1.9v3.00h-1.9zM151.1 47.0h1.9v3.00h-1.9zM156.7 47.0h3.8v3.00h-3.8zM168.0 47.0h1.9v3.00h-1.9zM171.8 47.0h1.9v3.00h-1.9zM175.5 47.0h1.9v3.00h-1.9zM179.3 47.0h1.9v3.00h-1.9zM184.9 47.0h1.9v3.00h-1.9zM90.9 50.0h1.9v2.00h-1.9zM81.5 55.0h1.9v3.00h-1.9zM87.2 55.0h1.9v3.00h-1.9zM90.9 55.0h1.9v3.00h-1.9zM98.4 55.0h1.9v3.00h-1.9zM121.0 55.0h3.8v3.00h-3.8zM132.3 55.0h1.9v3.00h-1.9zM139.8 55.0h1.9v3.00h-1.9zM164.2 55.0h3.8v3.00h-3.8zM171.8 55.0h1.9v3.00h-1.9zM177.4 55.0h5.6v3.00h-5.6zM186.8 55.0h1.9v3.00h-1.9zM190.6 55.0h1.9v3.00h-1.9zM198.1 55.0h3.8v3.00h-3.8zM322.2 55.0h3.8v3.00h-3.8zM333.4 55.0h1.9v3.00h-1.9zM337.2 55.0h1.9v3.00h-1.9zM354.1 55.0h1.9v3.00h-1.9zM367.3 55.0h1.9v3.00h-1.9zM371.0 55.0h1.9v3.00h-1.9zM376.7 55.0h3.8v3.00h-3.8zM382.3 55.0h1.9v3.00h-1.9zM393.6 55.0h1.9v3.00h-1.9zM399.2 55.0h1.9v3.00h-1.9zM403.0 55.0h9.4v3.00h-9.4zM419.9 55.0h7.5v3.00h-7.5zM429.3 55.0h26.3v3.00h-26.3zM457.5 55.0h45.1v3.00h-45.1zM504.5 55.0h15.0v3.00h-15.0zM523.3 55.0h1.9v3.00h-1.9zM527.1 55.0h11.3v3.00h-11.3zM540.2 55.0h3.8v3.00h-3.8zM549.6 55.0h1.9v3.00h-1.9zM557.2 55.0h1.9v3.00h-1.9zM570.3 55.0h1.9v3.00h-1.9zM576.0 55.0h1.9v3.00h-1.9zM583.5 55.0h1.9v3.00h-1.9zM594.8 55.0h1.9v3.00h-1.9zM632.4 55.0h3.8v3.00h-3.8zM651.2 55.0h1.9v3.00h-1.9zM701.9 55.0h1.9v3.00h-1.9zM718.8 55.0h1.9v3.00h-1.9zM842.9 55.0h3.8v3.00h-3.8zM873.0 55.0h1.9v3.00h-1.9zM79.6 58.0h1.9v3.00h-1.9z"/>
<path fill="#545574" d="M74.0 44.0h1.9v3.00h-1.9zM74.0 47.0h1.9v3.00h-1.9zM74.0 50.0h1.9v2.00h-1.9zM294.0 50.0h1.9v2.00h-1.9zM305.2 50.0h3.8v2.00h-3.8zM310.9 50.0h1.9v2.00h-1.9zM316.5 50.0h3.8v2.00h-3.8zM324.0 50.0h1.9v2.00h-1.9zM367.3 50.0h1.9v2.00h-1.9zM395.5 50.0h1.9v2.00h-1.9zM74.0 52.0h1.9v3.00h-1.9zM282.7 52.0h1.9v3.00h-1.9zM292.1 52.0h3.8v3.00h-3.8zM303.4 52.0h11.3v3.00h-11.3zM367.3 52.0h1.9v3.00h-1.9zM74.0 55.0h1.9v3.00h-1.9z"/>
<path fill="#97b1b6" d="M209.4 44.0h3.8v3.00h-3.8zM218.8 44.0h11.3v3.00h-11.3zM237.6 44.0h9.4v3.00h-9.4zM248.8 44.0h5.6v3.00h-5.6zM258.2 44.0h1.9v3.00h-1.9zM263.9 44.0h1.9v3.00h-1.9zM267.6 44.0h5.6v3.00h-5.6zM278.9 44.0h3.8v3.00h-3.8zM288.3 44.0h1.9v3.00h-1.9zM303.4 44.0h1.9v3.00h-1.9zM412.4 44.0h1.9v3.00h-1.9zM85.3 47.0h1.9v3.00h-1.9zM113.5 47.0h1.9v3.00h-1.9zM188.7 47.0h3.8v3.00h-3.8zM570.3 47.0h1.9v3.00h-1.9zM591.0 47.0h1.9v3.00h-1.9zM598.5 47.0h1.9v3.00h-1.9zM613.6 47.0h1.9v3.00h-1.9zM641.8 47.0h5.6v3.00h-5.6zM649.3 47.0h1.9v3.00h-1.9zM677.5 47.0h3.8v3.00h-3.8zM698.2 47.0h1.9v3.00h-1.9zM713.2 47.0h1.9v3.00h-1.9zM718.8 47.0h7.5v3.00h-7.5zM741.4 47.0h1.9v3.00h-1.9zM748.9 47.0h7.5v3.00h-7.5zM762.1 47.0h11.3v3.00h-11.3zM775.2 47.0h11.3v3.00h-11.3zM788.4 47.0h28.2v3.00h-28.2zM818.5 47.0h15.0v3.00h-15.0zM837.3 47.0h1.9v3.00h-1.9zM846.7 47.0h15.0v3.00h-15.0zM867.4 47.0h15.0v3.00h-15.0zM884.3 47.0h5.6v3.00h-5.6zM104.1 50.0h1.9v2.00h-1.9zM83.4 52.0h1.9v3.00h-1.9zM96.6 52.0h1.9v3.00h-1.9zM107.8 55.0h1.9v3.00h-1.9zM117.2 55.0h1.9v3.00h-1.9zM201.8 55.0h1.9v3.00h-1.9zM205.6 55.0h5.6v3.00h-5.6zM213.1 55.0h1.9v3.00h-1.9zM230.0 55.0h3.8v3.00h-3.8zM241.3 55.0h1.9v3.00h-1.9zM245.1 55.0h11.3v3.00h-11.3zM260.1 55.0h9.4v3.00h-9.4zM271.4 55.0h1.9v3.00h-1.9zM280.8 55.0h3.8v3.00h-3.8zM286.4 55.0h1.9v3.00h-1.9zM290.2 55.0h1.9v3.00h-1.9zM294.0 55.0h5.6v3.00h-5.6zM301.5 55.0h3.8v3.00h-3.8zM309.0 55.0h1.9v3.00h-1.9zM318.4 55.0h1.9v3.00h-1.9zM350.4 55.0h1.9v3.00h-1.9zM365.4 55.0h1.9v3.00h-1.9zM412.4 55.0h1.9v3.00h-1.9z"/>
<path fill="#91a9b1" d="M230.0 44.0h5.6v3.00h-5.6zM277.0 44.0h1.9v3.00h-1.9zM75.9 47.0h1.9v3.00h-1.9zM83.4 47.0h1.9v3.00h-1.9zM192.4 47.0h1.9v3.00h-1.9zM196.2 47.0h1.9v3.00h-1.9zM549.6 47.0h3.8v3.00h-3.8zM557.2 47.0h13.2v3.00h-13.2zM572.2 47.0h13.2v3.00h-13.2zM587.2 47.0h3.8v3.00h-3.8zM592.9 47.0h5.6v3.00h-5.6zM600.4 47.0h13.2v3.00h-13.2zM615.4 47.0h1.9v3.00h-1.9zM619.2 47.0h22.6v3.00h-22.6zM647.4 47.0h1.9v3.00h-1.9zM651.2 47.0h22.6v3.00h-22.6zM675.6 47.0h1.9v3.00h-1.9zM681.2 47.0h13.2v3.00h-13.2zM696.3 47.0h1.9v3.00h-1.9zM700.0 47.0h13.2v3.00h-13.2zM715.1 47.0h3.8v3.00h-3.8zM726.4 47.0h15.0v3.00h-15.0zM743.3 47.0h5.6v3.00h-5.6zM756.4 47.0h1.9v3.00h-1.9zM760.2 47.0h1.9v3.00h-1.9zM773.4 47.0h1.9v3.00h-1.9zM786.5 47.0h1.9v3.00h-1.9zM816.6 47.0h1.9v3.00h-1.9zM833.5 47.0h3.8v3.00h-3.8zM839.2 47.0h3.8v3.00h-3.8zM107.8 50.0h1.9v2.00h-1.9zM203.7 55.0h1.9v3.00h-1.9zM211.2 55.0h1.9v3.00h-1.9zM216.9 55.0h13.2v3.00h-13.2zM237.6 55.0h3.8v3.00h-3.8zM243.2 55.0h1.9v3.00h-1.9zM256.4 55.0h3.8v3.00h-3.8zM269.5 55.0h1.9v3.00h-1.9zM277.0 55.0h3.8v3.00h-3.8z"/>
<path fill="#8ba1ab" d="M235.7 44.0h1.9v3.00h-1.9zM273.3 44.0h3.8v3.00h-3.8zM115.4 47.0h1.9v3.00h-1.9zM194.3 47.0h1.9v3.00h-1.9zM198.1 47.0h1.9v3.00h-1.9zM438.7 47.0h1.9v3.00h-1.9zM442.5 47.0h1.9v3.00h-1.9zM466.9 47.0h7.5v3.00h-7.5zM476.3 47.0h3.8v3.00h-3.8zM483.8 47.0h13.2v3.00h-13.2zM502.6 47.0h1.9v3.00h-1.9zM506.4 47.0h3.8v3.00h-3.8zM512.0 47.0h3.8v3.00h-3.8zM517.7 47.0h3.8v3.00h-3.8zM523.3 47.0h26.3v3.00h-26.3zM553.4 47.0h3.8v3.00h-3.8zM585.4 47.0h1.9v3.00h-1.9zM617.3 47.0h1.9v3.00h-1.9zM673.7 47.0h1.9v3.00h-1.9zM694.4 47.0h1.9v3.00h-1.9zM85.3 50.0h1.9v2.00h-1.9zM94.7 50.0h1.9v2.00h-1.9zM98.4 50.0h1.9v2.00h-1.9zM79.6 52.0h1.9v3.00h-1.9zM90.9 52.0h1.9v3.00h-1.9zM856.1 52.0h1.9v3.00h-1.9zM869.2 52.0h1.9v3.00h-1.9zM882.4 52.0h1.9v3.00h-1.9zM75.9 55.0h1.9v3.00h-1.9zM102.2 55.0h1.9v3.00h-1.9zM233.8 55.0h1.9v3.00h-1.9zM275.2 55.0h1.9v3.00h-1.9z"/>
<path fill="#869aa6" d="M77.8 47.0h1.9v3.00h-1.9zM100.3 47.0h1.9v3.00h-1.9zM200.0 47.0h1.9v3.00h-1.9zM386.1 47.0h1.9v3.00h-1.9zM404.9 47.0h1.9v3.00h-1.9zM419.9 47.0h15.0v3.00h-15.0zM436.8 47.0h1.9v3.00h-1.9zM440.6 47.0h1.9v3.00h-1.9zM444.4 47.0h22.6v3.00h-22.6zM474.4 47.0h1.9v3.00h-1.9zM480.1 47.0h3.8v3.00h-3.8zM497.0 47.0h5.6v3.00h-5.6zM504.5 47.0h1.9v3.00h-1.9zM510.2 47.0h1.9v3.00h-1.9zM515.8 47.0h1.9v3.00h-1.9zM521.4 47.0h1.9v3.00h-1.9zM842.9 47.0h3.8v3.00h-3.8zM889.9 47.0h1.9v3.00h-1.9zM79.6 50.0h3.8v2.00h-3.8zM87.2 50.0h1.9v2.00h-1.9zM96.6 50.0h1.9v2.00h-1.9zM102.2 50.0h1.9v2.00h-1.9zM130.4 50.0h1.9v2.00h-1.9zM767.7 50.0h1.9v2.00h-1.9zM801.6 50.0h3.8v2.00h-3.8zM822.2 50.0h1.9v2.00h-1.9zM852.3 50.0h1.9v2.00h-1.9zM861.7 50.0h7.5v2.00h-7.5zM871.1 50.0h1.9v2.00h-1.9zM874.9 50.0h1.9v2.00h-1.9zM880.5 50.0h3.8v2.00h-3.8zM888.0 50.0h1.9v2.00h-1.9zM81.5 52.0h1.9v3.00h-1.9zM102.2 52.0h1.9v3.00h-1.9zM145.4 52.0h1.9v3.00h-1.9zM765.8 52.0h1.9v3.00h-1.9zM784.6 52.0h1.9v3.00h-1.9zM801.6 52.0h3.8v3.00h-3.8zM809.1 52.0h1.9v3.00h-1.9zM812.8 52.0h1.9v3.00h-1.9zM816.6 52.0h1.9v3.00h-1.9zM820.4 52.0h1.9v3.00h-1.9zM824.1 52.0h3.8v3.00h-3.8zM829.8 52.0h1.9v3.00h-1.9zM858.0 52.0h1.9v3.00h-1.9zM861.7 52.0h7.5v3.00h-7.5zM871.1 52.0h11.3v3.00h-11.3zM884.3 52.0h1.9v3.00h-1.9zM888.0 52.0h1.9v3.00h-1.9zM235.7 55.0h1.9v3.00h-1.9zM273.3 55.0h1.9v3.00h-1.9z"/>
<path fill="#6a738a" d="M81.5 47.0h1.9v3.00h-1.9zM211.2 47.0h3.8v3.00h-3.8zM216.9 47.0h7.5v3.00h-7.5zM239.4 47.0h13.2v3.00h-13.2zM254.5 47.0h3.8v3.00h-3.8zM267.6 47.0h1.9v3.00h-1.9zM414.3 47.0h1.9v3.00h-1.9zM100.3 50.0h1.9v2.00h-1.9zM190.6 50.0h1.9v2.00h-1.9zM419.9 50.0h1.9v2.00h-1.9zM425.6 50.0h1.9v2.00h-1.9zM431.2 50.0h9.4v2.00h-9.4zM444.4 50.0h15.0v2.00h-15.0zM461.3 50.0h5.6v2.00h-5.6zM482.0 50.0h1.9v2.00h-1.9zM485.7 50.0h3.8v2.00h-3.8zM498.9 50.0h1.9v2.00h-1.9zM842.9 50.0h1.9v2.00h-1.9zM889.9 50.0h1.9v2.00h-1.9zM119.1 52.0h1.9v3.00h-1.9zM122.9 52.0h1.9v3.00h-1.9zM192.4 52.0h3.8v3.00h-3.8zM419.9 52.0h24.4v3.00h-24.4zM446.2 52.0h1.9v3.00h-1.9zM450.0 52.0h3.8v3.00h-3.8zM455.6 52.0h5.6v3.00h-5.6zM463.2 52.0h1.9v3.00h-1.9zM478.2 52.0h1.9v3.00h-1.9zM487.6 52.0h1.9v3.00h-1.9zM498.9 52.0h3.8v3.00h-3.8zM842.9 52.0h3.8v3.00h-3.8z"/>
<path fill="#7b8a9b" d="M201.8 47.0h1.9v3.00h-1.9zM305.2 47.0h3.8v3.00h-3.8zM310.9 47.0h1.9v3.00h-1.9zM314.6 47.0h13.2v3.00h-13.2zM341.0 47.0h1.9v3.00h-1.9zM344.7 47.0h3.8v3.00h-3.8zM350.4 47.0h5.6v3.00h-5.6zM367.3 47.0h1.9v3.00h-1.9zM391.7 47.0h5.6v3.00h-5.6zM401.1 47.0h1.9v3.00h-1.9zM416.2 47.0h1.9v3.00h-1.9zM106.0 50.0h1.9v2.00h-1.9zM111.6 50.0h1.9v2.00h-1.9zM117.2 50.0h1.9v2.00h-1.9zM126.6 50.0h3.8v2.00h-3.8zM136.0 50.0h1.9v2.00h-1.9zM143.6 50.0h1.9v2.00h-1.9zM147.3 50.0h1.9v2.00h-1.9zM153.0 50.0h3.8v2.00h-3.8zM564.7 50.0h1.9v2.00h-1.9zM574.1 50.0h1.9v2.00h-1.9zM579.7 50.0h3.8v2.00h-3.8zM585.4 50.0h7.5v2.00h-7.5zM596.6 50.0h3.8v2.00h-3.8zM606.0 50.0h18.8v2.00h-18.8zM626.7 50.0h3.8v2.00h-3.8zM632.4 50.0h3.8v2.00h-3.8zM639.9 50.0h1.9v2.00h-1.9zM647.4 50.0h1.9v2.00h-1.9zM651.2 50.0h3.8v2.00h-3.8zM658.7 50.0h11.3v2.00h-11.3zM673.7 50.0h9.4v2.00h-9.4zM685.0 50.0h7.5v2.00h-7.5zM696.3 50.0h5.6v2.00h-5.6zM703.8 50.0h26.3v2.00h-26.3zM732.0 50.0h5.6v2.00h-5.6zM741.4 50.0h3.8v2.00h-3.8zM747.0 50.0h1.9v2.00h-1.9zM760.2 50.0h3.8v2.00h-3.8zM771.5 50.0h1.9v2.00h-1.9zM784.6 50.0h1.9v2.00h-1.9zM818.5 50.0h1.9v2.00h-1.9zM833.5 50.0h1.9v2.00h-1.9zM837.3 50.0h5.6v2.00h-5.6zM846.7 50.0h1.9v2.00h-1.9zM92.8 52.0h1.9v3.00h-1.9zM98.4 52.0h1.9v3.00h-1.9zM113.5 52.0h1.9v3.00h-1.9zM117.2 52.0h1.9v3.00h-1.9zM126.6 52.0h1.9v3.00h-1.9zM130.4 52.0h7.5v3.00h-7.5zM139.8 52.0h1.9v3.00h-1.9zM149.2 52.0h1.9v3.00h-1.9zM153.0 52.0h1.9v3.00h-1.9zM169.9 52.0h1.9v3.00h-1.9zM555.3 52.0h1.9v3.00h-1.9zM559.0 52.0h15.0v3.00h-15.0zM577.8 52.0h11.3v3.00h-11.3zM591.0 52.0h11.3v3.00h-11.3zM607.9 52.0h11.3v3.00h-11.3zM621.1 52.0h5.6v3.00h-5.6zM628.6 52.0h3.8v3.00h-3.8zM636.1 52.0h1.9v3.00h-1.9zM639.9 52.0h1.9v3.00h-1.9zM647.4 52.0h1.9v3.00h-1.9zM658.7 52.0h7.5v3.00h-7.5zM668.1 52.0h1.9v3.00h-1.9zM673.7 52.0h5.6v3.00h-5.6zM681.2 52.0h5.6v3.00h-5.6zM694.4 52.0h11.3v3.00h-11.3zM707.6 52.0h15.0v3.00h-15.0zM726.4 52.0h1.9v3.00h-1.9zM730.1 52.0h3.8v3.00h-3.8zM737.6 52.0h1.9v3.00h-1.9zM741.4 52.0h1.9v3.00h-1.9zM752.7 52.0h1.9v3.00h-1.9zM758.3 52.0h1.9v3.00h-1.9zM837.3 52.0h3.8v3.00h-3.8zM846.7 52.0h1.9v3.00h-1.9zM889.9 52.0h1.9v3.00h-1.9z"/>
<path fill="#758395" d="M203.7 47.0h1.9v3.00h-1.9zM265.8 47.0h1.9v3.00h-1.9zM282.7 47.0h1.9v3.00h-1.9zM286.4 47.0h3.8v3.00h-3.8zM292.1 47.0h13.2v3.00h-13.2zM309.0 47.0h1.9v3.00h-1.9zM312.8 47.0h1.9v3.00h-1.9zM348.5 47.0h1.9v3.00h-1.9zM92.8 50.0h1.9v2.00h-1.9zM109.7 50.0h1.9v2.00h-1.9zM115.4 50.0h1.9v2.00h-1.9zM122.9 50.0h1.9v2.00h-1.9zM134.2 50.0h1.9v2.00h-1.9zM139.8 50.0h3.8v2.00h-3.8zM158.6 50.0h7.5v2.00h-7.5zM173.6 50.0h1.9v2.00h-1.9zM186.8 50.0h3.8v2.00h-3.8zM525.2 50.0h1.9v2.00h-1.9zM529.0 50.0h1.9v2.00h-1.9zM540.2 50.0h3.8v2.00h-3.8zM545.9 50.0h9.4v2.00h-9.4zM557.2 50.0h7.5v2.00h-7.5zM566.6 50.0h3.8v2.00h-3.8zM572.2 50.0h1.9v2.00h-1.9zM576.0 50.0h3.8v2.00h-3.8zM583.5 50.0h1.9v2.00h-1.9zM592.9 50.0h3.8v2.00h-3.8zM624.8 50.0h1.9v2.00h-1.9zM630.5 50.0h1.9v2.00h-1.9zM636.1 50.0h3.8v2.00h-3.8zM671.8 50.0h1.9v2.00h-1.9zM683.1 50.0h1.9v2.00h-1.9zM692.5 50.0h3.8v2.00h-3.8zM701.9 50.0h1.9v2.00h-1.9zM730.1 50.0h1.9v2.00h-1.9zM745.2 50.0h1.9v2.00h-1.9zM87.2 52.0h3.8v3.00h-3.8zM115.4 52.0h1.9v3.00h-1.9zM121.0 52.0h1.9v3.00h-1.9zM124.8 52.0h1.9v3.00h-1.9zM154.8 52.0h13.2v3.00h-13.2zM171.8 52.0h1.9v3.00h-1.9zM179.3 52.0h1.9v3.00h-1.9zM184.9 52.0h1.9v3.00h-1.9zM188.7 52.0h1.9v3.00h-1.9zM502.6 52.0h1.9v3.00h-1.9zM523.3 52.0h3.8v3.00h-3.8zM529.0 52.0h26.3v3.00h-26.3zM557.2 52.0h1.9v3.00h-1.9zM574.1 52.0h1.9v3.00h-1.9zM626.7 52.0h1.9v3.00h-1.9zM632.4 52.0h3.8v3.00h-3.8zM638.0 52.0h1.9v3.00h-1.9zM686.9 52.0h1.9v3.00h-1.9zM690.6 52.0h3.8v3.00h-3.8zM728.2 52.0h1.9v3.00h-1.9zM841.0 52.0h1.9v3.00h-1.9z"/>
<path fill="#707b8f" d="M205.6 47.0h5.6v3.00h-5.6zM252.6 47.0h1.9v3.00h-1.9zM258.2 47.0h7.5v3.00h-7.5zM269.5 47.0h1.9v3.00h-1.9zM280.8 47.0h1.9v3.00h-1.9zM284.6 47.0h1.9v3.00h-1.9zM290.2 47.0h1.9v3.00h-1.9zM113.5 50.0h1.9v2.00h-1.9zM119.1 50.0h1.9v2.00h-1.9zM124.8 50.0h1.9v2.00h-1.9zM149.2 50.0h1.9v2.00h-1.9zM156.7 50.0h1.9v2.00h-1.9zM166.1 50.0h1.9v2.00h-1.9zM169.9 50.0h3.8v2.00h-3.8zM175.5 50.0h11.3v2.00h-11.3zM466.9 50.0h15.0v2.00h-15.0zM483.8 50.0h1.9v2.00h-1.9zM489.5 50.0h9.4v2.00h-9.4zM502.6 50.0h22.6v2.00h-22.6zM527.1 50.0h1.9v2.00h-1.9zM530.8 50.0h9.4v2.00h-9.4zM544.0 50.0h1.9v2.00h-1.9zM555.3 50.0h1.9v2.00h-1.9zM77.8 52.0h1.9v3.00h-1.9zM107.8 52.0h1.9v3.00h-1.9zM111.6 52.0h1.9v3.00h-1.9zM168.0 52.0h1.9v3.00h-1.9zM173.6 52.0h5.6v3.00h-5.6zM181.2 52.0h3.8v3.00h-3.8zM186.8 52.0h1.9v3.00h-1.9zM190.6 52.0h1.9v3.00h-1.9zM444.4 52.0h1.9v3.00h-1.9zM448.1 52.0h1.9v3.00h-1.9zM453.8 52.0h1.9v3.00h-1.9zM461.3 52.0h1.9v3.00h-1.9zM465.0 52.0h13.2v3.00h-13.2zM480.1 52.0h7.5v3.00h-7.5zM489.5 52.0h9.4v3.00h-9.4zM504.5 52.0h18.8v3.00h-18.8zM527.1 52.0h1.9v3.00h-1.9z"/>
<path fill="#646c84" d="M215.0 47.0h1.9v3.00h-1.9zM224.4 47.0h7.5v3.00h-7.5zM271.4 47.0h1.9v3.00h-1.9zM278.9 47.0h1.9v3.00h-1.9zM365.4 47.0h1.9v3.00h-1.9zM121.0 50.0h1.9v2.00h-1.9zM168.0 50.0h1.9v2.00h-1.9zM192.4 50.0h1.9v2.00h-1.9zM198.1 50.0h1.9v2.00h-1.9zM363.5 50.0h1.9v2.00h-1.9zM421.8 50.0h3.8v2.00h-3.8zM427.4 50.0h3.8v2.00h-3.8zM440.6 50.0h3.8v2.00h-3.8zM459.4 50.0h1.9v2.00h-1.9zM500.8 50.0h1.9v2.00h-1.9zM196.2 52.0h1.9v3.00h-1.9zM200.0 52.0h1.9v3.00h-1.9zM333.4 52.0h1.9v3.00h-1.9zM359.8 52.0h5.6v3.00h-5.6zM372.9 52.0h3.8v3.00h-3.8zM386.1 52.0h1.9v3.00h-1.9zM403.0 52.0h5.6v3.00h-5.6z"/>
<path fill="#595c79" d="M231.9 47.0h1.9v3.00h-1.9zM75.9 50.0h1.9v2.00h-1.9zM312.8 50.0h3.8v2.00h-3.8zM320.3 50.0h3.8v2.00h-3.8zM325.9 50.0h5.6v2.00h-5.6zM339.1 50.0h5.6v2.00h-5.6zM346.6 50.0h1.9v2.00h-1.9zM380.4 50.0h1.9v2.00h-1.9zM384.2 50.0h3.8v2.00h-3.8zM410.5 50.0h1.9v2.00h-1.9zM314.6 52.0h7.5v3.00h-7.5zM325.9 52.0h1.9v3.00h-1.9zM341.0 52.0h5.6v3.00h-5.6zM352.2 52.0h1.9v3.00h-1.9zM393.6 52.0h1.9v3.00h-1.9z"/>
<path fill="#494965" d="M233.8 47.0h3.8v3.00h-3.8zM284.6 50.0h3.8v2.00h-3.8zM290.2 50.0h1.9v2.00h-1.9zM295.8 50.0h1.9v2.00h-1.9zM301.5 50.0h1.9v2.00h-1.9zM414.3 50.0h1.9v2.00h-1.9zM260.1 52.0h1.9v3.00h-1.9zM263.9 52.0h3.8v3.00h-3.8z"/>
<path fill="#5f647f" d="M237.6 47.0h1.9v3.00h-1.9zM277.0 47.0h1.9v3.00h-1.9zM412.4 47.0h1.9v3.00h-1.9zM194.3 50.0h3.8v2.00h-3.8zM200.0 50.0h1.9v2.00h-1.9zM331.6 50.0h7.5v2.00h-7.5zM344.7 50.0h1.9v2.00h-1.9zM352.2 50.0h11.3v2.00h-11.3zM369.2 50.0h11.3v2.00h-11.3zM382.3 50.0h1.9v2.00h-1.9zM388.0 50.0h7.5v2.00h-7.5zM397.4 50.0h13.2v2.00h-13.2zM416.2 50.0h3.8v2.00h-3.8zM844.8 50.0h1.9v2.00h-1.9zM198.1 52.0h1.9v3.00h-1.9zM322.2 52.0h3.8v3.00h-3.8zM327.8 52.0h5.6v3.00h-5.6zM335.3 52.0h5.6v3.00h-5.6zM346.6 52.0h1.9v3.00h-1.9zM354.1 52.0h5.6v3.00h-5.6zM369.2 52.0h3.8v3.00h-3.8zM376.7 52.0h9.4v3.00h-9.4zM388.0 52.0h5.6v3.00h-5.6zM395.5 52.0h7.5v3.00h-7.5zM408.6 52.0h3.8v3.00h-3.8zM416.2 52.0h3.8v3.00h-3.8z"/>
<path fill="#43435d" d="M273.3 47.0h3.8v3.00h-3.8zM252.6 50.0h1.9v2.00h-1.9zM258.2 50.0h3.8v2.00h-3.8zM263.9 50.0h7.5v2.00h-7.5zM211.2 52.0h1.9v3.00h-1.9zM218.8 52.0h1.9v3.00h-1.9zM239.4 52.0h1.9v3.00h-1.9zM247.0 52.0h1.9v3.00h-1.9zM250.7 52.0h5.6v3.00h-5.6zM258.2 52.0h1.9v3.00h-1.9zM262.0 52.0h1.9v3.00h-1.9zM267.6 52.0h3.8v3.00h-3.8zM280.8 52.0h1.9v3.00h-1.9zM414.3 52.0h1.9v3.00h-1.9z"/>
<path fill="#8092a0" d="M327.8 47.0h13.2v3.00h-13.2zM342.8 47.0h1.9v3.00h-1.9zM356.0 47.0h9.4v3.00h-9.4zM369.2 47.0h16.9v3.00h-16.9zM388.0 47.0h3.8v3.00h-3.8zM397.4 47.0h3.8v3.00h-3.8zM403.0 47.0h1.9v3.00h-1.9zM406.8 47.0h5.6v3.00h-5.6zM418.0 47.0h1.9v3.00h-1.9zM435.0 47.0h1.9v3.00h-1.9zM77.8 50.0h1.9v2.00h-1.9zM132.3 50.0h1.9v2.00h-1.9zM137.9 50.0h1.9v2.00h-1.9zM145.4 50.0h1.9v2.00h-1.9zM151.1 50.0h1.9v2.00h-1.9zM570.3 50.0h1.9v2.00h-1.9zM600.4 50.0h5.6v2.00h-5.6zM641.8 50.0h5.6v2.00h-5.6zM649.3 50.0h1.9v2.00h-1.9zM654.9 50.0h3.8v2.00h-3.8zM670.0 50.0h1.9v2.00h-1.9zM737.6 50.0h3.8v2.00h-3.8zM748.9 50.0h11.3v2.00h-11.3zM764.0 50.0h3.8v2.00h-3.8zM769.6 50.0h1.9v2.00h-1.9zM773.4 50.0h11.3v2.00h-11.3zM786.5 50.0h15.0v2.00h-15.0zM805.3 50.0h13.2v2.00h-13.2zM820.4 50.0h1.9v2.00h-1.9zM824.1 50.0h9.4v2.00h-9.4zM835.4 50.0h1.9v2.00h-1.9zM848.6 50.0h3.8v2.00h-3.8zM854.2 50.0h7.5v2.00h-7.5zM869.2 50.0h1.9v2.00h-1.9zM873.0 50.0h1.9v2.00h-1.9zM876.8 50.0h3.8v2.00h-3.8zM884.3 50.0h3.8v2.00h-3.8zM75.9 52.0h1.9v3.00h-1.9zM94.7 52.0h1.9v3.00h-1.9zM104.1 52.0h1.9v3.00h-1.9zM109.7 52.0h1.9v3.00h-1.9zM128.5 52.0h1.9v3.00h-1.9zM137.9 52.0h1.9v3.00h-1.9zM141.7 52.0h3.8v3.00h-3.8zM147.3 52.0h1.9v3.00h-1.9zM151.1 52.0h1.9v3.00h-1.9zM576.0 52.0h1.9v3.00h-1.9zM589.1 52.0h1.9v3.00h-1.9zM602.3 52.0h5.6v3.00h-5.6zM619.2 52.0h1.9v3.00h-1.9zM641.8 52.0h5.6v3.00h-5.6zM649.3 52.0h9.4v3.00h-9.4zM666.2 52.0h1.9v3.00h-1.9zM670.0 52.0h3.8v3.00h-3.8zM679.4 52.0h1.9v3.00h-1.9zM688.8 52.0h1.9v3.00h-1.9zM705.7 52.0h1.9v3.00h-1.9zM722.6 52.0h3.8v3.00h-3.8zM733.9 52.0h3.8v3.00h-3.8zM739.5 52.0h1.9v3.00h-1.9zM743.3 52.0h9.4v3.00h-9.4zM754.6 52.0h3.8v3.00h-3.8zM760.2 52.0h5.6v3.00h-5.6zM767.7 52.0h16.9v3.00h-16.9zM786.5 52.0h15.0v3.00h-15.0zM805.3 52.0h3.8v3.00h-3.8zM811.0 52.0h1.9v3.00h-1.9zM814.7 52.0h1.9v3.00h-1.9zM818.5 52.0h1.9v3.00h-1.9zM822.2 52.0h1.9v3.00h-1.9zM827.9 52.0h1.9v3.00h-1.9zM831.6 52.0h5.6v3.00h-5.6zM848.6 52.0h7.5v3.00h-7.5zM859.8 52.0h1.9v3.00h-1.9zM886.2 52.0h1.9v3.00h-1.9z"/>
<path fill="#4e4e6d" d="M201.8 50.0h1.9v2.00h-1.9zM282.7 50.0h1.9v2.00h-1.9zM288.3 50.0h1.9v2.00h-1.9zM292.1 50.0h1.9v2.00h-1.9zM297.7 50.0h3.8v2.00h-3.8zM303.4 50.0h1.9v2.00h-1.9zM309.0 50.0h1.9v2.00h-1.9zM348.5 50.0h3.8v2.00h-3.8zM201.8 52.0h1.9v3.00h-1.9zM284.6 52.0h7.5v3.00h-7.5zM295.8 52.0h7.5v3.00h-7.5zM348.5 52.0h3.8v3.00h-3.8z"/>
<path fill="#3d3d55" d="M203.7 50.0h9.4v2.00h-9.4zM243.2 50.0h9.4v2.00h-9.4zM254.5 50.0h3.8v2.00h-3.8zM262.0 50.0h1.9v2.00h-1.9zM271.4 50.0h1.9v2.00h-1.9zM280.8 50.0h1.9v2.00h-1.9zM203.7 52.0h7.5v3.00h-7.5zM216.9 52.0h1.9v3.00h-1.9zM241.3 52.0h5.6v3.00h-5.6zM248.8 52.0h1.9v3.00h-1.9zM256.4 52.0h1.9v3.00h-1.9zM271.4 52.0h1.9v3.00h-1.9zM278.9 52.0h1.9v3.00h-1.9z"/>
<path fill="#38384e" d="M213.1 50.0h5.6v2.00h-5.6zM222.5 50.0h1.9v2.00h-1.9zM239.4 50.0h3.8v2.00h-3.8zM213.1 52.0h3.8v3.00h-3.8zM220.6 52.0h11.3v3.00h-11.3z"/>
<path fill="#323246" d="M218.8 50.0h3.8v2.00h-3.8zM224.4 50.0h7.5v2.00h-7.5zM278.9 50.0h1.9v2.00h-1.9zM365.4 50.0h1.9v2.00h-1.9zM365.4 52.0h1.9v3.00h-1.9z"/>
<path fill="#1c1c27" d="M231.9 50.0h1.9v2.00h-1.9z"/>
<path fill="#000000" d="M233.8 50.0h3.8v2.00h-3.8zM273.3 50.0h3.8v2.00h-3.8zM233.8 52.0h1.9v3.00h-1.9z"/>
<path fill="#2d2d3e" d="M237.6 50.0h1.9v2.00h-1.9zM237.6 52.0h1.9v3.00h-1.9zM412.4 52.0h1.9v3.00h-1.9z"/>
<path fill="#21212f" d="M277.0 50.0h1.9v2.00h-1.9zM231.9 52.0h1.9v3.00h-1.9z"/>
<path fill="#272736" d="M412.4 50.0h1.9v2.00h-1.9zM277.0 52.0h1.9v3.00h-1.9z"/>
<path fill="#060608" d="M235.7 52.0h1.9v3.00h-1.9z"/>
<path fill="#0b0b10" d="M273.3 52.0h3.8v3.00h-3.8z"/>
</g>
<line x1="135.50" y1="91.50" x2="135.50" y2="12.50" stroke="#a89898" stroke-opacity="0.75" stroke-width="1.11" stroke-dasharray="1.11 1.83"/>
<line x1="192.50" y1="91.50" x2="192.50" y2="12.50" stroke="#a89898" stroke-opacity="0.75" stroke-width="1.11" stroke-dasharray="1.11 1.83"/>
<line x1="243.50" y1="91.50" x2="243.50" y2="12.50" stroke="#a89898" stroke-opacity="0.75" stroke-width="1.11" stroke-dasharray="1.11 1.83"/>
<line x1="289.50" y1="91.50" x2="289.50" y2="12.50" stroke="#a89898" stroke-opacity="0.75" stroke-width="1.11" stroke-dasharray="1.11 1.83"/>
<line x1="342.50" y1="91.50" x2="342.50" y2="12.50" stroke="#a89898" stroke-opacity="0.75" stroke-width="1.11" stroke-dasharray="1.11 1.83"/>
<line x1="405.50" y1="91.50" x2="405.50" y2="12.50" stroke="#a89898" stroke-opacity="0.75" stroke-width="1.11" stroke-dasharray="1.11 1.83"/>
<line x1="479.50" y1="91.50" x2="479.50" y2="12.50" stroke="#a89898" stroke-opacity="0.75" stroke-width="1.11" stroke-dasharray="1.11 1.83"/>
<line x1="564.50" y1="91.50" x2="564.50" y2="12.50" stroke="#a89898" stroke-opacity="0.75" stroke-width="1.11" stroke-dasharray="1.11 1.83"/>
<line x1="660.50" y1="91.50" x2="660.50" y2="12.50" stroke="#a89898" stroke-opacity="0.75" stroke-width="1.11" stroke-dasharray="1.11 1.83"/>
<line x1="769.50" y1="91.50" x2="769.50" y2="12.50" stroke="#a89898" stroke-opacity="0.75" stroke-width="1.11" stroke-dasharray="1.11 1.83"/>
<line x1="891.50" y1="91.50" x2="891.50" y2="12.50" stroke="#a89898" stroke-opacity="0.75" stroke-width="1.11" stroke-dasharray="1.11 1.83"/>
<line x1="70.50" y1="51.50" x2="897.50" y2="51.50" stroke="#e0ccc4" stroke-opacity="0.5" stroke-width="1.11" stroke-dasharray="1.11 1.83"/>
<rect x="70.50" y="324.50" width="827.00" height="21.75" fill="#f8f8f8"/>
<line x1="135.50" y1="346.25" x2="135.50" y2="108.50" stroke="#b0b0b0" stroke-opacity="1" stroke-width="1.11" stroke-dasharray="1.11 1.83"/>
<line x1="192.50" y1="346.25" x2="192.50" y2="108.50" stroke="#b0b0b0" stroke-opacity="1" stroke-width="1.11" stroke-dasharray="1.11 1.83"/>
<line x1="243.50" y1="346.25" x2="243.50" y2="108.50" stroke="#b0b0b0" stroke-opacity="1" stroke-width="1.11" stroke-dasharray="1.11 1.83"/>
<line x1="289.50" y1="346.25" x2="289.50" y2="108.50" stroke="#b0b0b0" stroke-opacity="1" stroke-width="1.11" stroke-dasharray="1.11 1.83"/>
<line x1="342.50" y1="346.25" x2="342.50" y2="108.50" stroke="#b0b0b0" stroke-opacity="1" stroke-width="1.11" stroke-dasharray="1.11 1.83"/>
<line x1="405.50" y1="346.25" x2="405.50" y2="108.50" stroke="#b0b0b0" stroke-opacity="1" stroke-width="1.11" stroke-dasharray="1.11 1.83"/>
<line x1="479.50" y1="346.25" x2="479.50" y2="108.50" stroke="#b0b0b0" stroke-opacity="1" stroke-width="1.11" stroke-dasharray="1.11 1.83"/>
<line x1="564.50" y1="346.25" x2="564.50" y2="108.50" stroke="#b0b0b0" stroke-opacity="1" stroke-width="1.11" stroke-dasharray="1.11 1.83"/>
<line x1="660.50" y1="346.25" x2="660.50" y2="108.50" stroke="#b0b0b0" stroke-opacity="1" stroke-width="1.11" stroke-dasharray="1.11 1.83"/>
<line x1="769.50" y1="346.25" x2="769.50" y2="108.50" stroke="#b0b0b0" stroke-opacity="1" stroke-width="1.11" stroke-dasharray="1.11 1.83"/>
<line x1="891.50" y1="346.25" x2="891.50" y2="108.50" stroke="#b0b0b0" stroke-opacity="1" stroke-width="1.11" stroke-dasharray="1.11 1.83"/>
<line x1="70.50" y1="137.50" x2="897.50" y2="137.50" stroke="#b0b0b0" stroke-opacity="1" stroke-width="1.11" stroke-dasharray="1.11 1.83"/>
<line x1="70.50" y1="175.50" x2="897.50" y2="175.50" stroke="#b0b0b0" stroke-opacity="1" stroke-width="1.11" stroke-dasharray="1.11 1.83"/>
<line x1="70.50" y1="212.50" x2="897.50" y2="212.50" stroke="#b0b0b0" stroke-opacity="1" stroke-width="1.11" stroke-dasharray="1.11 1.83"/>
<line x1="70.50" y1="249.50" x2="897.50" y2="249.50" stroke="#b0b0b0" stroke-opacity="1" stroke-width="1.11" stroke-dasharray="1.11 1.83"/>
<line x1="70.50" y1="287.50" x2="897.50" y2="287.50" stroke="#b0b0b0" stroke-opacity="1" stroke-width="1.11" stroke-dasharray="1.11 1.83"/>
<line x1="70.50" y1="324.50" x2="897.50" y2="324.50" stroke="#b0b0b0" stroke-opacity="1" stroke-width="1.11" stroke-dasharray="1.11 1.83"/>
<clipPath id="c2"><rect x="70.50" y="108.50" width="827.00" height="237.75"/></clipPath>
<g clip-path="url(#c2)" fill="none" stroke-linejoin="miter">
<path d="M73.60 279.60H76.40V291.60H77.60V296.00H78.80V305.00H79.80V294.50H80.80V304.00H81.80V294.00H82.20V303.50H83.60V303.00H88.00V308.40H92.40V311.60H94.80V307.60H96.00V311.60H98.80V316.00H100.40V309.00H102.80V313.60H105.60V307.00H106.80V312.40H111.20V314.00H114.00V315.60H120.00V317.00H126.00V317.60H128.00V317.00H130.40V318.40H135.20V319.60H142.00V320.40H148.00V320.00H154.00V320.80H168.00V321.20H176.00V321.60H180.00V321.00H186.00V321.80H193.00V322.00H240.00V322.40H330.00V322.70H869.00V321.80H878.00V322.30H882.00V321.60H887.00V320.70H888.50V317.70H891.50" stroke="#f9c6c6" stroke-width="1.8"/>
<path d="M73.00 197.75H75.80V278.75H77.90V270.60H79.20V236.90H81.00V229.75H83.40V279.80H85.00V236.20H86.60V268.00H88.00V249.00H89.10V254.75H91.90V280.00H92.90V243.00H95.00V231.00H96.80V255.00H99.20V259.40H102.20V257.00H105.90V250.00H107.10V258.75H108.80V242.60H113.75V231.90H118.15V227.75H120.10V232.50H121.50V246.00H123.00V248.75H124.90V241.00H126.10V252.50H128.50V251.25H129.75V225.60H132.15V221.00H134.65V256.25H135.10V251.90H137.00V248.00H142.15V244.70H144.15V248.75H146.15V238.00H148.90V246.50H150.10V241.90H153.40V228.75H154.85V242.50H156.25V239.75H159.25V239.00H162.25V236.00H164.65V252.50H167.15V234.00H168.60V239.40H170.90V244.00H174.15V224.00H175.85V231.25H177.00V235.00H179.25V234.00H181.00V231.90H182.75V221.50H183.75V218.00H185.90V198.75H187.85V214.75H190.00V228.75H191.25V233.50H199.40V210.00H202.00V183.50H203.70V168.50H205.30V180.50H206.00V165.60H210.50V167.75H212.25V165.00H214.15V159.50H216.10V164.75H221.25V159.50H224.40V155.00H226.60V159.50H230.00V158.75H231.75V132.75H233.00V90.00H237.00V146.00H239.15V169.60H240.30V162.60H241.40V170.00H242.50V162.75H243.60V166.50H245.50V168.50H248.25V167.75H251.00V172.75H253.75V171.90H255.90V168.75H257.60V172.50H260.40V176.90H262.15V173.00H264.60V176.90H266.50V179.75H268.65V168.75H270.40V175.00H271.85V162.25H274.00V90.00H277.00V136.00H279.00V157.50H280.60V171.00H282.00V186.00H286.25V186.90H290.15V183.75H292.10V190.00H296.20V184.75H298.25V186.50H300.25V188.50H302.50V191.25H307.40V195.00H308.90V190.00H310.10V194.50H314.40V199.50H316.90V196.25H319.10V200.00H322.50V202.50H325.00V201.25H327.00V205.00H329.50V207.50H331.50V210.00H333.50V212.00H335.50V208.75H338.00V207.50H341.50V203.75H344.50V202.50H348.00V202.00H349.70V186.25H350.60V190.00H352.20V202.50H354.50V206.25H356.90V211.25H358.60V208.00H361.50V210.50H363.50V211.25H364.50V185.00H366.40V152.00H367.60V197.50H370.00V210.00H372.50V211.25H375.00V210.00H376.50V206.25H379.00V208.00H381.50V207.50H384.00V208.00H386.00V205.00H388.90V209.50H390.10V206.25H393.00V205.00H395.50V203.00H398.00V207.50H400.50V208.75H403.00V209.50H405.00V212.00H406.50V214.50H408.50V211.25H410.50V206.25H411.50V190.00H413.40V141.25H414.60V174.50H417.00V207.50H419.00V216.25H420.50V220.50H424.00V221.25H426.50V222.50H429.00V220.50H431.50V222.00H435.00V222.50H439.00V221.25H441.50V222.00H445.00V222.50H447.50V224.50H450.00V223.00H452.50V224.50H456.00V223.75H458.00V221.25H461.00V226.25H464.00V227.00H467.00V226.25H470.00V227.00H473.50V228.00H476.50V228.75H479.00V227.00H482.50V227.50H486.50V224.50H489.00V228.75H492.50V229.50H495.50V227.50H498.00V222.50H499.50V219.50H502.00V224.00H503.00V229.75H510.00V229.50H513.00V231.25H516.50V228.75H520.00V230.00H524.00V231.25H528.00V233.00H531.00V232.00H534.00V234.50H537.50V236.25H541.00V234.50H544.90V231.25H545.60V235.50H549.00V234.50H552.00V235.50H555.00V237.50H558.00V239.00H561.00V240.75H564.00V241.75H568.00V242.00H570.00V244.50H573.00V240.75H576.50V241.75H579.50V243.00H583.00V242.00H586.50V243.75H589.00V246.50H592.50V243.00H596.00V243.75H599.00V245.50H602.50V246.25H604.50V248.00H607.00V243.75H611.00V245.50H613.50V246.50H616.50V245.00H619.00V246.50H621.50V243.75H625.00V243.25H627.00V242.00H629.50V243.75H632.50V245.00H635.00V241.25H638.00V240.00H640.00V243.75H642.00V247.00H645.00V248.00H647.50V244.50H650.00V246.25H653.00V247.50H656.00V249.50H658.00V246.25H661.00V243.75H664.00V245.00H666.00V246.50H669.00V245.00H672.50V242.50H674.50V240.00H676.50V245.00H679.00V248.25H681.50V245.50H684.00V243.00H687.00V242.50H689.40V246.25H691.10V241.25H693.50V240.00H696.00V242.50H700.00V243.00H703.50V245.50H707.00V245.00H710.00V243.00H713.50V242.50H716.50V245.50H720.00V245.00H724.00V244.50H725.00V247.50H727.00V243.00H730.00V243.75H732.50V247.50H735.50V246.25H737.50V244.50H740.00V247.00H742.50V248.00H744.50V245.00H746.50V250.00H749.00V251.25H752.00V250.00H754.50V250.75H756.50V248.25H759.00V250.00H761.50V251.25H764.00V253.00H766.00V254.50H768.50V253.00H771.00V250.75H774.00V252.50H776.50V251.25H779.00V252.50H781.50V251.25H784.00V252.00H787.00V251.50H790.00V253.00H793.00V253.75H796.00V251.25H798.50V250.50H800.00V254.50H803.00V255.00H806.00V254.50H808.00V251.50H810.50V250.75H813.00V254.00H815.50V251.25H817.50V250.75H819.50V253.75H822.00V255.50H825.00V255.00H828.00V253.00H830.50V250.75H833.50V250.00H836.50V249.50H838.00V245.50H840.00V242.50H842.00V237.50H843.50V220.00H846.00V221.25H847.50V242.50H849.00V251.25H851.90V256.25H853.60V252.50H856.00V255.00H858.50V256.25H861.50V257.50H864.00V258.25H866.50V256.25H869.00V258.75H871.50V255.50H874.00V257.00H876.50V255.00H879.00V258.75H881.50V256.25H883.50V253.75H886.00V253.00H887.50V255.50H889.00V223.00H891.50" stroke="#888888" stroke-width="1.8"/>
</g>
<rect x="70.50" y="12.50" width="827.00" height="79.00" fill="none" stroke="#000" stroke-width="1.11"/>
<rect x="70.50" y="108.50" width="827.00" height="237.75" fill="none" stroke="#000" stroke-width="1.11"/>
<path d="M135.50 12.50v-4.86M135.50 91.50v4.86M135.50 108.50v-4.86M135.50 346.25v4.86M192.50 12.50v-4.86M192.50 91.50v4.86M192.50 108.50v-4.86M192.50 346.25v4.86M243.50 12.50v-4.86M243.50 91.50v4.86M243.50 108.50v-4.86M243.50 346.25v4.86M289.50 12.50v-4.86M289.50 91.50v4.86M289.50 108.50v-4.86M289.50 346.25v4.86M342.50 12.50v-4.86M342.50 91.50v4.86M342.50 108.50v-4.86M342.50 346.25v4.86M405.50 12.50v-4.86M405.50 91.50v4.86M405.50 108.50v-4.86M405.50 346.25v4.86M479.50 12.50v-4.86M479.50 91.50v4.86M479.50 108.50v-4.86M479.50 346.25v4.86M564.50 12.50v-4.86M564.50 91.50v4.86M564.50 108.50v-4.86M564.50 346.25v4.86M660.50 12.50v-4.86M660.50 91.50v4.86M660.50 108.50v-4.86M660.50 346.25v4.86M769.50 12.50v-4.86M769.50 91.50v4.86M769.50 108.50v-4.86M769.50 346.25v4.86M891.50 12.50v-4.86M891.50 91.50v4.86M891.50 108.50v-4.86M891.50 346.25v4.86M100.50 12.50v-2.78M100.50 91.50v2.78M100.50 108.50v-2.78M100.50 346.25v2.78M160.50 12.50v-2.78M160.50 91.50v2.78M160.50 108.50v-2.78M160.50 346.25v2.78M177.50 12.50v-2.78M177.50 91.50v2.78M177.50 108.50v-2.78M177.50 346.25v2.78M204.50 12.50v-2.78M204.50 91.50v2.78M204.50 108.50v-2.78M204.50 346.25v2.78M214.50 12.50v-2.78M214.50 91.50v2.78M214.50 108.50v-2.78M214.50 346.25v2.78M224.50 12.50v-2.78M224.50 91.50v2.78M224.50 108.50v-2.78M224.50 346.25v2.78M234.50 12.50v-2.78M234.50 91.50v2.78M234.50 108.50v-2.78M234.50 346.25v2.78M252.50 12.50v-2.78M252.50 91.50v2.78M252.50 108.50v-2.78M252.50 346.25v2.78M261.50 12.50v-2.78M261.50 91.50v2.78M261.50 108.50v-2.78M261.50 346.25v2.78M270.50 12.50v-2.78M270.50 91.50v2.78M270.50 108.50v-2.78M270.50 346.25v2.78M280.50 12.50v-2.78M280.50 91.50v2.78M280.50 108.50v-2.78M280.50 346.25v2.78M299.50 12.50v-2.78M299.50 91.50v2.78M299.50 108.50v-2.78M299.50 346.25v2.78M309.50 12.50v-2.78M309.50 91.50v2.78M309.50 108.50v-2.78M309.50 346.25v2.78M320.50 12.50v-2.78M320.50 91.50v2.78M320.50 108.50v-2.78M320.50 346.25v2.78M331.50 12.50v-2.78M331.50 91.50v2.78M331.50 108.50v-2.78M331.50 346.25v2.78M354.50 12.50v-2.78M354.50 91.50v2.78M354.50 108.50v-2.78M354.50 346.25v2.78M366.50 12.50v-2.78M366.50 91.50v2.78M366.50 108.50v-2.78M366.50 346.25v2.78M379.50 12.50v-2.78M379.50 91.50v2.78M379.50 108.50v-2.78M379.50 346.25v2.78M392.50 12.50v-2.78M392.50 91.50v2.78M392.50 108.50v-2.78M392.50 346.25v2.78M419.50 12.50v-2.78M419.50 91.50v2.78M419.50 108.50v-2.78M419.50 346.25v2.78M433.50 12.50v-2.78M433.50 91.50v2.78M433.50 108.50v-2.78M433.50 346.25v2.78M448.50 12.50v-2.78M448.50 91.50v2.78M448.50 108.50v-2.78M448.50 346.25v2.78M463.50 12.50v-2.78M463.50 91.50v2.78M463.50 108.50v-2.78M463.50 346.25v2.78M495.50 12.50v-2.78M495.50 91.50v2.78M495.50 108.50v-2.78M495.50 346.25v2.78M511.50 12.50v-2.78M511.50 91.50v2.78M511.50 108.50v-2.78M511.50 346.25v2.78M528.50 12.50v-2.78M528.50 91.50v2.78M528.50 108.50v-2.78M528.50 346.25v2.78M545.50 12.50v-2.78M545.50 91.50v2.78M545.50 108.50v-2.78M545.50 346.25v2.78M582.50 12.50v-2.78M582.50 91.50v2.78M582.50 108.50v-2.78M582.50 346.25v2.78M601.50 12.50v-2.78M601.50 91.50v2.78M601.50 108.50v-2.78M601.50 346.25v2.78M620.50 12.50v-2.78M620.50 91.50v2.78M620.50 108.50v-2.78M620.50 346.25v2.78M640.50 12.50v-2.78M640.50 91.50v2.78M640.50 108.50v-2.78M640.50 346.25v2.78M681.50 12.50v-2.78M681.50 91.50v2.78M681.50 108.50v-2.78M681.50 346.25v2.78M702.50 12.50v-2.78M702.50 91.50v2.78M702.50 108.50v-2.78M702.50 346.25v2.78M724.50 12.50v-2.78M724.50 91.50v2.78M724.50 108.50v-2.78M724.50 346.25v2.78M747.50 12.50v-2.78M747.50 91.50v2.78M747.50 108.50v-2.78M747.50 346.25v2.78M793.50 12.50v-2.78M793.50 91.50v2.78M793.50 108.50v-2.78M793.50 346.25v2.78M817.50 12.50v-2.78M817.50 91.50v2.78M817.50 108.50v-2.78M817.50 346.25v2.78M841.50 12.50v-2.78M841.50 91.50v2.78M841.50 108.50v-2.78M841.50 346.25v2.78M866.50 12.50v-2.78M866.50 91.50v2.78M866.50 108.50v-2.78M866.50 346.25v2.78M70.50 137.50h-4.86M70.50 175.50h-4.86M70.50 212.50h-4.86M70.50 249.50h-4.86M70.50 287.50h-4.86M70.50 324.50h-4.86M70.50 51.50h-4.86" stroke="#000" stroke-width="1.11" fill="none"/>
<g font-family='"DejaVu Sans","Liberation Sans",sans-serif' font-size="13.89" fill="#000">
<text x="135.50" y="366.1" text-anchor="middle">0.7</text>
<text x="192.50" y="366.1" text-anchor="middle">1.0</text>
<text x="243.50" y="366.1" text-anchor="middle">1.5</text>
<text x="289.50" y="366.1" text-anchor="middle">2.0</text>
<text x="342.50" y="366.1" text-anchor="middle">2.5</text>
<text x="405.50" y="366.1" text-anchor="middle">3.0</text>
<text x="479.50" y="366.1" text-anchor="middle">3.5</text>
<text x="564.50" y="366.1" text-anchor="middle">4.0</text>
<text x="660.50" y="366.1" text-anchor="middle">4.5</text>
<text x="769.50" y="366.1" text-anchor="middle">5.0</text>
<text x="891.50" y="366.1" text-anchor="middle">5.5</text>
<text x="59.9" y="142.70" text-anchor="end">100</text>
<text x="59.9" y="180.10" text-anchor="end">80</text>
<text x="59.9" y="217.50" text-anchor="end">60</text>
<text x="59.9" y="254.90" text-anchor="end">40</text>
<text x="59.9" y="292.30" text-anchor="end">20</text>
<text x="59.9" y="329.70" text-anchor="end">0</text>
</g>
<text x="94.9" y="123.8" font-family='"DejaVu Sans","Liberation Sans",sans-serif' font-size="10.85" fill="#000">5105_32514</text>
<g font-family='"DejaVu Sans","Liberation Sans",sans-serif' font-size="13.89" fill="#000">
<text x="451.3" y="387.8" font-style="italic">λ</text>
<text x="459.6" y="389.9" font-size="9.72">obs</text>
<text x="481.5" y="387.8">[</text>
<text x="487.6" y="387.8" font-style="italic">μ</text>
<text x="496.5" y="387.8">m]</text>
</g>
<g transform="translate(19.8 314.3) rotate(-90)" font-family='"DejaVu Sans","Liberation Sans",sans-serif' font-size="13.89" fill="#000">
<text x="-0.7" y="0.0"  font-style="italic">f</text>
<text x="3.3" y="3.8" font-size="9.72" font-style="italic">λ</text>
<text x="14.2" y="0.0"  >[</text>
<text x="19.0" y="0.0"  >10</text>
<text x="38.0" y="-5.0" font-size="9.72" >−20</text>
<text x="63.8" y="0.0"  >erg</text>
<text x="85.8" y="0.0"  >s</text>
<text x="93.5" y="-5.0" font-size="9.72" >−1</text>
<text x="108.0" y="0.0"  >cm</text>
<text x="128.8" y="-5.0" font-size="9.72" >−2</text>
<text x="144.0" y="0.0"  >Å</text>
<text x="154.0" y="-5.0" font-size="9.72" >−1</text>
<text x="168.2" y="0.0"  >]</text>
</g>
<clipPath id="c3"><rect x="910.50" y="12.50" width="100.00" height="79.00"/></clipPath>
<g clip-path="url(#c3)">
<path d="M910.5 40.5V32.2L923.2 30.5L928.5 27.5C930.5 26 932 24 932.8 22.8L933.5 24.5V40.5H934.5V43.5H943V46.4H962.75V49.5H980.5V51.3H971.5V54.3H937.5V57.5H933.5V70.6H910.5V60.5H926.5V57.5H933.5V40.5z" fill="#fde0d9"/>
</g>
<line x1="933.50" y1="80.00" x2="933.50" y2="14.00" stroke="#b0b0b0" stroke-opacity="1" stroke-width="1.11" stroke-dasharray="1.11 1.83"/>
<line x1="979.50" y1="80.00" x2="979.50" y2="14.00" stroke="#b0b0b0" stroke-opacity="1" stroke-width="1.11" stroke-dasharray="1.11 1.83"/>
<path d="M929.6 28.6C931 27.3 931.8 25.4 931.9 22.9" stroke="#fba184" stroke-width="1" fill="none"/>
<line x1="910.50" y1="51.50" x2="991.50" y2="51.50" stroke="#b0b0b0" stroke-opacity="1" stroke-width="1.11" stroke-dasharray="1.11 1.83"/>
<g clip-path="url(#c3)" fill="none" stroke-linejoin="round">
<path d="M928.5 22V29H923.2V32.2H907.5M907.5 40.5H934.5V43.5H943V46.4H962.75V49.5H980.5V51.3H971.5V54.3H937.5V57.5H926.5V60.5H907.5" stroke="#333333" stroke-width="3.0"/>
<path d="M928.5 29H923.2V32.2H907.5M907.5 40.5H934.5V43.5H943V46.4H962.75V49.5H980.5V51.3H971.5V54.3H937.5V57.5H926.5V60.5H907.5" stroke="#a3553a" stroke-width="1.4"/>
</g>
<path d="M910.50 12.00V91.50H926.5" stroke="#000" stroke-width="1.11" fill="none"/>
<path d="M910.50 51.5h-4.86" stroke="#000" stroke-width="1.11"/>
<text x="934.8" y="93.8" font-family='"DejaVu Sans","Liberation Sans",sans-serif' font-size="9.72" fill="#000">0.00 ± 0.39</text>
</svg>
</body></html>
